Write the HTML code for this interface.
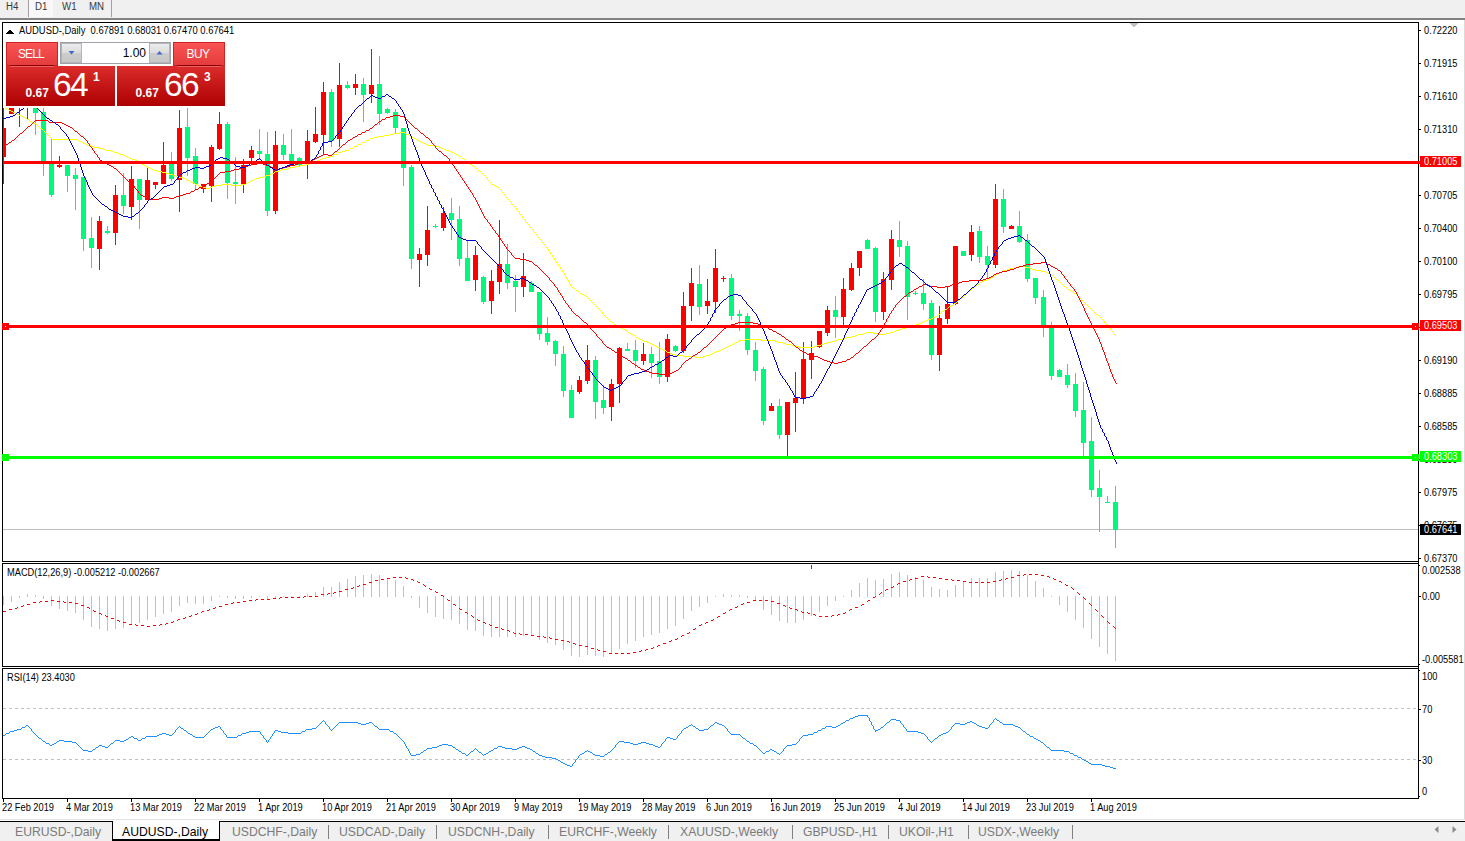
<!DOCTYPE html>
<html><head><meta charset="utf-8"><title>AUDUSD-,Daily</title>
<style>
html,body{margin:0;padding:0;}
body{width:1465px;height:841px;position:relative;overflow:hidden;background:#fff;font-family:"Liberation Sans",sans-serif;}
#chart{position:absolute;left:0;top:0;}
.ax{position:absolute;font-size:10px;line-height:12px;height:12px;color:#000;white-space:pre;transform:scaleX(0.925);transform-origin:0 0;}
#topbar{position:absolute;left:0;top:0;width:1465px;height:18px;background:#f0f0f0;border-bottom:2px solid #828282;box-sizing:content-box;}
#topbar .tf{position:absolute;top:0;height:17px;line-height:14px;font-size:10px;color:#3a3a3a;transform:scaleX(0.97);transform-origin:0 0;}
#topbar .sep{position:absolute;top:0;width:1px;height:17px;background:#a0a0a0;}
#d1bg{position:absolute;left:29px;top:0;width:24px;height:17px;background:#f8f8f8;}
#tabs{position:absolute;left:0;top:819px;width:1465px;height:22px;background:#f0f0f0;}
#tabs .ln{position:absolute;left:0;top:2px;width:1465px;height:1px;background:#000;}
#tabs .top{position:absolute;left:0;top:0;width:1465px;height:1px;background:#e3e3e3;}
#tabs .top2{position:absolute;left:0;top:1px;width:1465px;height:1px;background:#fff;}
.tab{position:absolute;top:6px;font-size:12.2px;line-height:14px;color:#7a7a7a;white-space:pre;}
.tsep{position:absolute;top:6px;width:1px;height:14px;background:#808080;}
#atab{position:absolute;left:112px;top:2px;width:106px;height:18px;background:#fff;border:1px solid #000;border-top:none;border-bottom:2px solid #000;}
#oct{position:absolute;left:0;top:0;}
.w{position:absolute;color:#fff;white-space:pre;}

.pn{position:absolute;background:linear-gradient(#dc2c2c,#c41616 50%,#ae0000);}
.bt{position:absolute;background:linear-gradient(#fb5454,#e43c3c);box-shadow:inset 0 0 0 1px #cc2222;}
.ul{position:absolute;height:1px;background:#8c0000;box-shadow:0 1px 0 #e86060;}
#spin{position:absolute;left:60px;top:42px;width:109px;height:20px;border:1px solid #a0a2aa;background:#fff;}
.sb{position:absolute;top:1px;width:19px;height:18px;background:linear-gradient(#ececec,#dcdcdc 48%,#cccccc 52%,#c8c8c8);box-shadow:0 0 0 1px #b4b4b8;}

</style></head><body>
<svg id="chart" width="1465" height="841" viewBox="0 0 1465 841" shape-rendering="crispEdges">
<rect x="1464" y="20" width="1" height="800" fill="#dadada"/>
<rect x="2" y="22" width="1417" height="1" fill="#000"/>
<rect x="2" y="22" width="1" height="540" fill="#000"/>
<rect x="2" y="561" width="1417" height="1" fill="#000"/>
<rect x="2" y="563" width="1417" height="1" fill="#000"/>
<rect x="2" y="563" width="1" height="104" fill="#000"/>
<rect x="2" y="666" width="1417" height="1" fill="#000"/>
<rect x="2" y="668" width="1417" height="1" fill="#000"/>
<rect x="2" y="668" width="1" height="131" fill="#000"/>
<rect x="2" y="798" width="1417" height="1" fill="#000"/>
<rect x="1418" y="22" width="1" height="777" fill="#000"/>
<defs><clipPath id="cm"><rect x="3" y="23" width="1415" height="538"/></clipPath></defs>
<rect x="3" y="529" width="1415" height="1" fill="#c0c0c0"/>
<g clip-path="url(#cm)"><rect x="3" y="108" width="1" height="76" fill="#ff0000"/><rect x="1" y="128" width="5" height="29" fill="#ff0000"/><rect x="11" y="108" width="1" height="6" fill="#ff0000"/><rect x="9" y="108" width="5" height="6" fill="#ff0000"/><rect x="19" y="108" width="1" height="19" fill="#ff0000"/><rect x="27" y="108" width="1" height="11" fill="#ff0000"/><rect x="35" y="108" width="1" height="27" fill="#00f97d"/><rect x="33" y="108" width="5" height="5" fill="#00f97d"/><rect x="43" y="108" width="1" height="68" fill="#00f97d"/><rect x="41" y="112" width="5" height="50" fill="#00f97d"/><rect x="51" y="139" width="1" height="58" fill="#00f97d"/><rect x="49" y="163" width="5" height="32" fill="#00f97d"/><rect x="59" y="156" width="1" height="12" fill="#ff0000"/><rect x="57" y="165" width="5" height="2" fill="#ff0000"/><rect x="67" y="165" width="1" height="27" fill="#00f97d"/><rect x="65" y="165" width="5" height="11" fill="#00f97d"/><rect x="75" y="168" width="1" height="42" fill="#00f97d"/><rect x="73" y="175" width="5" height="4" fill="#00f97d"/><rect x="83" y="177" width="1" height="74" fill="#00f97d"/><rect x="81" y="177" width="5" height="62" fill="#00f97d"/><rect x="91" y="217" width="1" height="51" fill="#00f97d"/><rect x="89" y="238" width="5" height="10" fill="#00f97d"/><rect x="99" y="216" width="1" height="54" fill="#ff0000"/><rect x="97" y="221" width="5" height="28" fill="#ff0000"/><rect x="107" y="226" width="1" height="8" fill="#00f97d"/><rect x="105" y="231" width="5" height="2" fill="#00f97d"/><rect x="115" y="185" width="1" height="60" fill="#ff0000"/><rect x="113" y="195" width="5" height="38" fill="#ff0000"/><rect x="123" y="173" width="1" height="41" fill="#00f97d"/><rect x="121" y="195" width="5" height="11" fill="#00f97d"/><rect x="131" y="166" width="1" height="54" fill="#ff0000"/><rect x="129" y="179" width="5" height="28" fill="#ff0000"/><rect x="139" y="179" width="1" height="50" fill="#00f97d"/><rect x="137" y="179" width="5" height="21" fill="#00f97d"/><rect x="147" y="168" width="1" height="32" fill="#ff0000"/><rect x="145" y="180" width="5" height="20" fill="#ff0000"/><rect x="155" y="182" width="1" height="7" fill="#ff0000"/><rect x="153" y="182" width="5" height="3" fill="#ff0000"/><rect x="163" y="142" width="1" height="42" fill="#ff0000"/><rect x="161" y="165" width="5" height="19" fill="#ff0000"/><rect x="171" y="152" width="1" height="29" fill="#00f97d"/><rect x="169" y="164" width="5" height="15" fill="#00f97d"/><rect x="179" y="110" width="1" height="102" fill="#ff0000"/><rect x="177" y="128" width="5" height="52" fill="#ff0000"/><rect x="187" y="108" width="1" height="68" fill="#00f97d"/><rect x="185" y="127" width="5" height="31" fill="#00f97d"/><rect x="195" y="148" width="1" height="41" fill="#00f97d"/><rect x="193" y="156" width="5" height="28" fill="#00f97d"/><rect x="203" y="184" width="1" height="9" fill="#ff0000"/><rect x="201" y="184" width="5" height="5" fill="#ff0000"/><rect x="211" y="145" width="1" height="57" fill="#ff0000"/><rect x="209" y="147" width="5" height="39" fill="#ff0000"/><rect x="219" y="112" width="1" height="38" fill="#ff0000"/><rect x="217" y="124" width="5" height="25" fill="#ff0000"/><rect x="227" y="122" width="1" height="77" fill="#00f97d"/><rect x="225" y="124" width="5" height="59" fill="#00f97d"/><rect x="235" y="157" width="1" height="47" fill="#00f97d"/><rect x="233" y="182" width="5" height="2" fill="#00f97d"/><rect x="243" y="159" width="1" height="34" fill="#ff0000"/><rect x="241" y="165" width="5" height="19" fill="#ff0000"/><rect x="251" y="146" width="1" height="15" fill="#ff0000"/><rect x="249" y="150" width="5" height="8" fill="#ff0000"/><rect x="259" y="129" width="1" height="31" fill="#00f97d"/><rect x="257" y="151" width="5" height="3" fill="#00f97d"/><rect x="267" y="132" width="1" height="84" fill="#00f97d"/><rect x="265" y="154" width="5" height="57" fill="#00f97d"/><rect x="275" y="131" width="1" height="83" fill="#ff0000"/><rect x="273" y="145" width="5" height="66" fill="#ff0000"/><rect x="283" y="134" width="1" height="26" fill="#00f97d"/><rect x="281" y="145" width="5" height="10" fill="#00f97d"/><rect x="291" y="129" width="1" height="37" fill="#00f97d"/><rect x="289" y="154" width="5" height="12" fill="#00f97d"/><rect x="299" y="157" width="1" height="9" fill="#00f97d"/><rect x="297" y="158" width="5" height="7" fill="#00f97d"/><rect x="307" y="130" width="1" height="49" fill="#ff0000"/><rect x="305" y="141" width="5" height="22" fill="#ff0000"/><rect x="315" y="107" width="1" height="36" fill="#ff0000"/><rect x="313" y="134" width="5" height="8" fill="#ff0000"/><rect x="323" y="82" width="1" height="73" fill="#ff0000"/><rect x="321" y="92" width="5" height="43" fill="#ff0000"/><rect x="331" y="89" width="1" height="58" fill="#00f97d"/><rect x="329" y="92" width="5" height="49" fill="#00f97d"/><rect x="339" y="63" width="1" height="84" fill="#ff0000"/><rect x="337" y="85" width="5" height="54" fill="#ff0000"/><rect x="347" y="81" width="1" height="8" fill="#00f97d"/><rect x="345" y="85" width="5" height="3" fill="#00f97d"/><rect x="355" y="74" width="1" height="21" fill="#ff0000"/><rect x="353" y="84" width="5" height="4" fill="#ff0000"/><rect x="363" y="78" width="1" height="44" fill="#00f97d"/><rect x="361" y="84" width="5" height="11" fill="#00f97d"/><rect x="371" y="49" width="1" height="54" fill="#ff0000"/><rect x="369" y="85" width="5" height="9" fill="#ff0000"/><rect x="379" y="56" width="1" height="69" fill="#00f97d"/><rect x="377" y="84" width="5" height="30" fill="#00f97d"/><rect x="387" y="108" width="1" height="6" fill="#00f97d"/><rect x="385" y="109" width="5" height="4" fill="#00f97d"/><rect x="395" y="109" width="1" height="25" fill="#00f97d"/><rect x="393" y="112" width="5" height="16" fill="#00f97d"/><rect x="403" y="128" width="1" height="58" fill="#00f97d"/><rect x="401" y="128" width="5" height="40" fill="#00f97d"/><rect x="411" y="165" width="1" height="104" fill="#00f97d"/><rect x="409" y="167" width="5" height="92" fill="#00f97d"/><rect x="419" y="248" width="1" height="39" fill="#ff0000"/><rect x="417" y="254" width="5" height="6" fill="#ff0000"/><rect x="427" y="206" width="1" height="60" fill="#ff0000"/><rect x="425" y="230" width="5" height="25" fill="#ff0000"/><rect x="435" y="224" width="1" height="4" fill="#00f97d"/><rect x="433" y="226" width="5" height="1" fill="#00f97d"/><rect x="443" y="207" width="1" height="24" fill="#ff0000"/><rect x="441" y="213" width="5" height="15" fill="#ff0000"/><rect x="451" y="198" width="1" height="42" fill="#00f97d"/><rect x="449" y="213" width="5" height="7" fill="#00f97d"/><rect x="459" y="206" width="1" height="60" fill="#00f97d"/><rect x="457" y="219" width="5" height="40" fill="#00f97d"/><rect x="467" y="241" width="1" height="40" fill="#00f97d"/><rect x="465" y="258" width="5" height="23" fill="#00f97d"/><rect x="475" y="246" width="1" height="45" fill="#ff0000"/><rect x="473" y="255" width="5" height="25" fill="#ff0000"/><rect x="483" y="276" width="1" height="28" fill="#00f97d"/><rect x="481" y="277" width="5" height="25" fill="#00f97d"/><rect x="491" y="270" width="1" height="44" fill="#ff0000"/><rect x="489" y="281" width="5" height="20" fill="#ff0000"/><rect x="499" y="220" width="1" height="74" fill="#ff0000"/><rect x="497" y="264" width="5" height="18" fill="#ff0000"/><rect x="507" y="244" width="1" height="45" fill="#00f97d"/><rect x="505" y="264" width="5" height="19" fill="#00f97d"/><rect x="515" y="275" width="1" height="37" fill="#00f97d"/><rect x="513" y="281" width="5" height="6" fill="#00f97d"/><rect x="523" y="253" width="1" height="44" fill="#ff0000"/><rect x="521" y="276" width="5" height="11" fill="#ff0000"/><rect x="531" y="281" width="1" height="11" fill="#00f97d"/><rect x="529" y="283" width="5" height="9" fill="#00f97d"/><rect x="539" y="292" width="1" height="48" fill="#00f97d"/><rect x="537" y="292" width="5" height="42" fill="#00f97d"/><rect x="547" y="317" width="1" height="28" fill="#00f97d"/><rect x="545" y="333" width="5" height="9" fill="#00f97d"/><rect x="555" y="340" width="1" height="26" fill="#00f97d"/><rect x="553" y="341" width="5" height="13" fill="#00f97d"/><rect x="563" y="346" width="1" height="51" fill="#00f97d"/><rect x="561" y="354" width="5" height="37" fill="#00f97d"/><rect x="571" y="385" width="1" height="33" fill="#00f97d"/><rect x="569" y="390" width="5" height="28" fill="#00f97d"/><rect x="579" y="376" width="1" height="18" fill="#ff0000"/><rect x="577" y="380" width="5" height="12" fill="#ff0000"/><rect x="587" y="345" width="1" height="39" fill="#ff0000"/><rect x="585" y="360" width="5" height="21" fill="#ff0000"/><rect x="595" y="356" width="1" height="63" fill="#00f97d"/><rect x="593" y="360" width="5" height="42" fill="#00f97d"/><rect x="603" y="385" width="1" height="29" fill="#00f97d"/><rect x="601" y="400" width="5" height="8" fill="#00f97d"/><rect x="611" y="379" width="1" height="42" fill="#ff0000"/><rect x="609" y="384" width="5" height="23" fill="#ff0000"/><rect x="619" y="347" width="1" height="56" fill="#ff0000"/><rect x="617" y="348" width="5" height="36" fill="#ff0000"/><rect x="627" y="343" width="1" height="8" fill="#00f97d"/><rect x="625" y="349" width="5" height="2" fill="#00f97d"/><rect x="635" y="340" width="1" height="28" fill="#00f97d"/><rect x="633" y="350" width="5" height="11" fill="#00f97d"/><rect x="643" y="343" width="1" height="22" fill="#ff0000"/><rect x="641" y="354" width="5" height="7" fill="#ff0000"/><rect x="651" y="347" width="1" height="31" fill="#00f97d"/><rect x="649" y="354" width="5" height="9" fill="#00f97d"/><rect x="659" y="342" width="1" height="42" fill="#00f97d"/><rect x="657" y="361" width="5" height="16" fill="#00f97d"/><rect x="667" y="334" width="1" height="48" fill="#ff0000"/><rect x="665" y="339" width="5" height="38" fill="#ff0000"/><rect x="675" y="345" width="1" height="7" fill="#00f97d"/><rect x="673" y="346" width="5" height="5" fill="#00f97d"/><rect x="683" y="292" width="1" height="61" fill="#ff0000"/><rect x="681" y="306" width="5" height="45" fill="#ff0000"/><rect x="691" y="268" width="1" height="53" fill="#ff0000"/><rect x="689" y="283" width="5" height="23" fill="#ff0000"/><rect x="699" y="265" width="1" height="50" fill="#00f97d"/><rect x="697" y="284" width="5" height="23" fill="#00f97d"/><rect x="707" y="279" width="1" height="35" fill="#ff0000"/><rect x="705" y="301" width="5" height="5" fill="#ff0000"/><rect x="715" y="249" width="1" height="64" fill="#ff0000"/><rect x="713" y="268" width="5" height="34" fill="#ff0000"/><rect x="723" y="276" width="1" height="6" fill="#ff0000"/><rect x="721" y="278" width="5" height="1" fill="#ff0000"/><rect x="731" y="274" width="1" height="46" fill="#00f97d"/><rect x="729" y="278" width="5" height="38" fill="#00f97d"/><rect x="739" y="310" width="1" height="21" fill="#00f97d"/><rect x="737" y="314" width="5" height="2" fill="#00f97d"/><rect x="747" y="313" width="1" height="42" fill="#00f97d"/><rect x="745" y="316" width="5" height="34" fill="#00f97d"/><rect x="755" y="342" width="1" height="39" fill="#00f97d"/><rect x="753" y="350" width="5" height="21" fill="#00f97d"/><rect x="763" y="367" width="1" height="58" fill="#00f97d"/><rect x="761" y="369" width="5" height="52" fill="#00f97d"/><rect x="771" y="403" width="1" height="8" fill="#ff0000"/><rect x="769" y="406" width="5" height="5" fill="#ff0000"/><rect x="779" y="399" width="1" height="40" fill="#00f97d"/><rect x="777" y="406" width="5" height="29" fill="#00f97d"/><rect x="787" y="402" width="1" height="54" fill="#ff0000"/><rect x="785" y="402" width="5" height="33" fill="#ff0000"/><rect x="795" y="372" width="1" height="60" fill="#ff0000"/><rect x="793" y="398" width="5" height="5" fill="#ff0000"/><rect x="803" y="342" width="1" height="62" fill="#ff0000"/><rect x="801" y="359" width="5" height="40" fill="#ff0000"/><rect x="811" y="341" width="1" height="38" fill="#ff0000"/><rect x="809" y="353" width="5" height="7" fill="#ff0000"/><rect x="819" y="331" width="1" height="17" fill="#ff0000"/><rect x="817" y="331" width="5" height="16" fill="#ff0000"/><rect x="827" y="306" width="1" height="30" fill="#ff0000"/><rect x="825" y="310" width="5" height="23" fill="#ff0000"/><rect x="835" y="296" width="1" height="42" fill="#00f97d"/><rect x="833" y="310" width="5" height="7" fill="#00f97d"/><rect x="843" y="278" width="1" height="47" fill="#ff0000"/><rect x="841" y="289" width="5" height="28" fill="#ff0000"/><rect x="851" y="263" width="1" height="28" fill="#ff0000"/><rect x="849" y="268" width="5" height="22" fill="#ff0000"/><rect x="859" y="251" width="1" height="25" fill="#ff0000"/><rect x="857" y="251" width="5" height="17" fill="#ff0000"/><rect x="867" y="239" width="1" height="10" fill="#00f97d"/><rect x="865" y="240" width="5" height="9" fill="#00f97d"/><rect x="875" y="247" width="1" height="75" fill="#00f97d"/><rect x="873" y="248" width="5" height="64" fill="#00f97d"/><rect x="883" y="272" width="1" height="48" fill="#ff0000"/><rect x="881" y="279" width="5" height="33" fill="#ff0000"/><rect x="891" y="230" width="1" height="60" fill="#ff0000"/><rect x="889" y="239" width="5" height="41" fill="#ff0000"/><rect x="899" y="221" width="1" height="36" fill="#00f97d"/><rect x="897" y="240" width="5" height="7" fill="#00f97d"/><rect x="907" y="241" width="1" height="79" fill="#00f97d"/><rect x="905" y="246" width="5" height="51" fill="#00f97d"/><rect x="915" y="291" width="1" height="4" fill="#00f97d"/><rect x="913" y="293" width="5" height="1" fill="#00f97d"/><rect x="923" y="279" width="1" height="31" fill="#00f97d"/><rect x="921" y="293" width="5" height="11" fill="#00f97d"/><rect x="931" y="300" width="1" height="60" fill="#00f97d"/><rect x="929" y="303" width="5" height="52" fill="#00f97d"/><rect x="939" y="306" width="1" height="65" fill="#ff0000"/><rect x="937" y="318" width="5" height="37" fill="#ff0000"/><rect x="947" y="286" width="1" height="38" fill="#ff0000"/><rect x="945" y="304" width="5" height="15" fill="#ff0000"/><rect x="955" y="246" width="1" height="59" fill="#ff0000"/><rect x="953" y="246" width="5" height="58" fill="#ff0000"/><rect x="963" y="251" width="1" height="5" fill="#00f97d"/><rect x="961" y="251" width="5" height="5" fill="#00f97d"/><rect x="971" y="225" width="1" height="36" fill="#ff0000"/><rect x="969" y="232" width="5" height="23" fill="#ff0000"/><rect x="979" y="226" width="1" height="37" fill="#00f97d"/><rect x="977" y="231" width="5" height="26" fill="#00f97d"/><rect x="987" y="246" width="1" height="32" fill="#00f97d"/><rect x="985" y="256" width="5" height="9" fill="#00f97d"/><rect x="995" y="184" width="1" height="84" fill="#ff0000"/><rect x="993" y="199" width="5" height="66" fill="#ff0000"/><rect x="1003" y="189" width="1" height="44" fill="#00f97d"/><rect x="1001" y="199" width="5" height="28" fill="#00f97d"/><rect x="1011" y="225" width="1" height="4" fill="#ff0000"/><rect x="1009" y="226" width="5" height="3" fill="#ff0000"/><rect x="1019" y="211" width="1" height="32" fill="#00f97d"/><rect x="1017" y="226" width="5" height="16" fill="#00f97d"/><rect x="1027" y="234" width="1" height="48" fill="#00f97d"/><rect x="1025" y="240" width="5" height="39" fill="#00f97d"/><rect x="1035" y="278" width="1" height="26" fill="#00f97d"/><rect x="1033" y="278" width="5" height="20" fill="#00f97d"/><rect x="1043" y="290" width="1" height="47" fill="#00f97d"/><rect x="1041" y="297" width="5" height="29" fill="#00f97d"/><rect x="1051" y="322" width="1" height="58" fill="#00f97d"/><rect x="1049" y="326" width="5" height="50" fill="#00f97d"/><rect x="1059" y="369" width="1" height="8" fill="#00f97d"/><rect x="1057" y="370" width="5" height="7" fill="#00f97d"/><rect x="1067" y="364" width="1" height="24" fill="#00f97d"/><rect x="1065" y="375" width="5" height="10" fill="#00f97d"/><rect x="1075" y="373" width="1" height="44" fill="#00f97d"/><rect x="1073" y="384" width="5" height="27" fill="#00f97d"/><rect x="1083" y="382" width="1" height="74" fill="#00f97d"/><rect x="1081" y="410" width="5" height="33" fill="#00f97d"/><rect x="1091" y="417" width="1" height="80" fill="#00f97d"/><rect x="1089" y="441" width="5" height="49" fill="#00f97d"/><rect x="1099" y="470" width="1" height="62" fill="#00f97d"/><rect x="1097" y="488" width="5" height="9" fill="#00f97d"/><rect x="1107" y="496" width="1" height="7" fill="#00f97d"/><rect x="1105" y="502" width="5" height="1" fill="#00f97d"/><rect x="1115" y="486" width="1" height="62" fill="#00f97d"/><rect x="1113" y="502" width="5" height="28" fill="#00f97d"/></g>
<path d="M0 .5m5 108h2m0 1h2m0 1h2m0 1h2m0 1h2m0 1h2m0 1h2m0 1h2m0 1h2m0 1h2m0 1h2m0 1h2m0 1h1m0 1h2m0 1h2m0 1h2m0 1h1m0 1h1m0 1h1m0 1h1m0 1h2m0 1h1m0 1h1m0 1h1m0 1h1m0 1h1m0 1h1m0 1h1m0 1h1m0 1h1m0 1h1m0 1h26m0 1h1m0 1h3m0 1h1m0 1h3m0 1h1m0 1h4m0 1h3m0 1h5m0 1h4m0 1h3m0 1h5m0 1h3m0 1h4m0 1h2m0 1h3m0 1h2m0 1h2m0 1h3m0 1h2m0 1h3m0 1h2m0 1h2m0 1h2m0 1h1m0 1h2m0 1h2m0 1h1m0 1h3m0 1h1m0 1h3m0 1h3m0 1h5m0 1h4m0 1h3m0 1h4m0 1h3m0 1h3m0 1h4m0 1h3m0 1h1m0 1h3m0 1h1m0 1h3m0 1h1m0 1h3m0 1h1m0 1h4m0 1h3m0 1h4m0 -1h2m0 -1h3m0 -1h6m0 -1h10m0 1h10m0 -1h5m0 -1h1m0 -1h3m0 -1h1m0 -1h3m0 -1h2m0 -1h3m0 -1h4m0 -1h3m0 -1h4m0 -1h1m0 -1h3m0 -1h1m0 -1h4m0 -1h3m0 -1h5m0 -1h3m0 -1h5m0 -1h5m0 -1h5m0 -1h4m0 -1h2m0 -1h3m0 -1h3m0 -1h3m0 -1h2m0 -1h4m0 -1h3m0 -1h4m0 -1h1m0 -1h3m0 -1h1m0 -1h4m0 -1h3m0 -1h4m0 -1h1m0 -1h3m0 -1h1m0 -1h3m0 -1h1m0 -1h3m0 -1h1m0 -1h3m0 -1h1m0 -1h3m0 -1h1m0 -1h4m0 -1h3m0 -1h7m0 -1h6m0 -1h3m0 -1h7m0 -1h5m0 1h1m0 1h3m0 1h1m0 1h2m0 1h2m0 1h2m0 1h1m0 1h2m0 1h2m0 1h2m0 1h3m0 1h2m0 1h6m0 1h5m0 1h2m0 1h3m0 1h2m0 1h3m0 1h2m0 1h3m0 1h2m0 1h2m0 1h1m0 1h2m0 1h1m0 1h2m0 1h1m0 1h1m0 1h2m0 1h1m0 1h1m0 1h2m0 1h1m0 1h2m0 1h1m0 1h1m0 1h1m0 1h1m0 1h2m0 1h1m0 1h1m0 1h1m0 1h1m0 1h1m0 1h1m0 1h1m-1 1h1m0 1h1m0 1h1m0 1h1m0 1h1m0 1h2m0 1h2m0 1h1m0 1h2m0 1h1m0 1h1m0 1h1m-1 1h1m0 1h1m0 1h1m0 1h1m0 1h1m-1 1h1m0 1h1m0 1h1m0 1h1m0 1h1m0 1h1m0 1h1m-1 1h1m0 1h1m0 1h1m0 1h1m0 1h1m0 1h1m-1 1h1m0 1h1m0 1h1m0 1h1m-1 1h1m0 1h1m0 1h1m0 1h1m-1 1h1m0 1h1m0 1h1m0 1h1m-1 1h1m0 1h1m0 1h1m0 1h1m0 1h1m-1 1h1m0 1h1m0 1h1m0 1h1m0 1h1m-1 1h1m0 1h1m0 1h1m0 1h1m0 1h1m-1 1h1m0 1h1m0 1h1m0 1h1m0 1h1m-1 1h1m0 1h1m0 1h1m0 1h1m0 1h1m-1 1h1m0 1h1m0 1h1m0 1h1m-1 1h1m0 1h1m0 1h1m-1 1h1m0 1h1m0 1h1m-1 1h1m0 1h1m0 1h1m-1 1h1m0 1h1m0 1h1m-1 1h1m0 1h1m0 1h1m-1 1h1m0 1h1m0 1h1m-1 1h1m0 1h1m0 1h1m-1 1h1m0 1h1m0 1h1m-1 1h1m0 1h1m-1 1h1m0 1h1m-1 1h1m0 1h1m0 1h1m-1 1h1m0 1h1m-1 1h1m0 1h1m-1 1h1m0 1h1m0 1h1m0 1h2m0 1h1m0 1h2m0 1h1m0 1h1m0 1h2m0 1h2m0 1h2m0 1h1m0 1h1m0 1h1m0 1h1m0 1h1m0 1h1m0 1h1m0 1h1m0 1h1m0 1h1m0 1h1m0 1h1m0 1h1m0 1h1m0 1h1m0 1h1m0 1h1m-1 1h1m0 1h1m0 1h1m0 1h1m0 1h1m0 1h1m0 1h1m0 1h1m0 1h2m0 1h1m0 1h1m0 1h2m0 1h1m0 1h3m0 1h1m0 1h2m0 1h2m0 1h2m0 1h1m0 1h2m0 1h1m0 1h2m0 1h2m0 1h1m0 1h2m0 1h2m0 1h2m0 1h2m0 1h3m0 1h2m0 1h3m0 1h1m0 1h3m0 1h1m0 1h3m0 1h2m0 1h1m0 1h3m0 1h1m0 1h3m0 1h2m0 1h3m0 1h8m0 1h12m0 1h8m0 -1h3m0 -1h4m0 -1h2m0 -1h2m0 -1h2m0 -1h3m0 -1h2m0 -1h2m0 -1h2m0 -1h3m0 -1h1m0 -1h3m0 -1h2m0 -1h1m0 -1h3m0 -1h1m0 -1h6m0 -1h16m0 1h14m0 1h3m0 1h5m0 1h3m0 1h5m0 1h3m0 1h5m0 1h15m0 -1h3m0 -1h4m0 -1h3m0 -1h3m0 -1h4m0 -1h4m0 -1h3m0 -1h5m0 -1h3m0 -1h5m0 -1h4m0 -1h3m0 -1h5m0 -1h3m0 -1h7m0 1h7m0 1h5m0 -1h5m0 -1h4m0 -1h2m0 -1h3m0 -1h3m0 -1h4m0 -1h3m0 -1h3m0 -1h4m0 -1h3m0 -1h2m0 -1h2m0 -1h3m0 -1h2m0 -1h3m0 -1h2m0 -1h2m0 -1h2m0 -1h1m0 -1h2m0 -1h1m0 -1h1m0 -1h2m0 -1h1m0 -1h2m0 -1h1m0 -1h1m0 -1h2m0 -1h2m0 -1h1m0 -1h2m0 -1h1m0 -1h1m0 -1h1m0 -1h1m0 -1h2m0 -1h1m0 -1h1m0 -1h1m0 -1h1m0 -1h1m0 -1h1m0 -1h2m0 -1h1m0 -1h1m0 -1h1m0 -1h1m0 -1h2m0 -1h1m0 -1h2m0 -1h1m0 -1h2m0 -1h2m0 -1h3m0 -1h2m0 -1h2m0 -1h2m0 -1h1m0 -1h2m0 -1h2m0 -1h1m0 -1h3m0 -1h1m0 -1h4m0 -1h3m0 -1h5m0 -1h3m0 -1h7m0 1h5m0 1h2m0 1h3m0 1h6m0 1h5m0 1h1m0 1h3m0 1h1m0 1h2m0 1h1m0 1h1m0 1h1m0 1h2m0 1h1m0 1h1m0 1h1m0 1h1m0 1h1m0 1h1m0 1h2m0 1h1m0 1h1m0 1h1m0 1h2m0 1h2m0 1h1m0 1h2m0 1h1m0 1h1m0 1h1m0 1h1m0 1h1m0 1h1m0 1h1m0 1h1m0 1h1m0 1h1m0 1h1m0 1h1m0 1h1m0 1h1m0 1h1m0 1h1m0 1h1m0 1h1m0 1h1m0 1h1m0 1h2m0 1h1m0 1h1m0 1h1m0 1h1m0 1h1m0 1h1m0 1h1m-1 1h1m0 1h1m0 1h1m0 1h1m0 1h1m0 1h1m0 1h1m-1 1h1m0 1h1m0 1h1m0 1h1m-1 1h1m0 1h1m0 1h1" fill="none" stroke="#ffff00" stroke-width="1"/>
<path d="M0 .5m3 146h1m0 -1h2m0 -1h2m0 -1h1m0 -1h2m0 -1h1m0 -1h2m0 -1h1m0 -1h1m0 -1h1m0 -1h1m0 -1h1m0 -1h1m0 -1h2m0 -1h1m0 -1h1m0 -1h1m0 -1h1m0 -1h1m0 -1h1m0 -1h2m0 -1h1m0 -1h1m0 -1h1m0 -1h1m0 -1h1m0 -1h13m0 1h1m0 1h13m0 1h2m0 1h2m0 1h2m0 1h2m0 1h2m0 1h1m0 1h1m0 1h1m0 1h2m0 1h1m0 1h1m0 1h1m0 1h1m0 1h2m0 1h1m0 1h1m0 1h1m0 1h1m0 1h1m-1 1h1m0 1h1m0 1h1m-1 1h1m0 1h1m0 1h1m0 1h1m-1 1h1m0 1h1m0 1h1m-1 1h1m0 1h1m0 1h1m0 1h1m-1 1h1m0 1h1m0 1h1m-1 1h1m0 1h2m0 1h1m0 1h3m0 1h1m0 1h2m0 1h2m0 1h2m0 1h1m0 1h2m0 1h1m0 1h1m0 1h1m0 1h1m0 1h1m0 1h1m0 1h1m0 1h1m0 1h1m0 1h1m0 1h1m0 1h1m0 1h2m0 1h1m0 1h1m0 1h1m0 1h1m0 1h1m-1 1h1m0 1h1m0 1h1m0 1h1m0 1h1m-1 1h1m0 1h1m0 1h1m0 1h2m0 1h2m0 1h1m0 1h2m0 1h11m0 -1h3m0 -1h7m0 1h5m0 -1h2m0 -1h3m0 -1h4m0 -1h3m0 -1h4m0 -1h1m0 -1h3m0 -1h1m0 -1h3m0 -1h1m0 -1h3m0 -1h1m0 -1h2m0 -1h2m0 -1h2m0 -1h1m0 -1h2m0 -1h1m0 -1h1m0 -1h1m0 -1h1m0 -1h1m0 -1h1m0 -1h1m0 -1h1m0 -1h5m0 -1h6m0 -1h3m0 -1h5m0 -1h3m0 -1h4m0 -1h2m0 -1h3m0 -1h6m0 -1h6m0 1h3m0 1h3m0 1h2m0 1h2m0 1h1m0 1h2m0 1h2m0 -1h2m0 -1h3m0 -1h4m0 -1h3m0 -1h5m0 -1h3m0 -1h5m0 -1h5m0 -1h3m0 -1h2m0 -1h2m0 -1h2m0 -1h2m0 -1h2m0 -1h2m0 -1h5m0 1h4m0 -1h1m0 -1h1m0 -1h1m0 -1h2m0 -1h1m0 -1h1m0 -1h1m0 -1h1m0 -1h1m0 -1h1m0 -1h2m0 -1h1m0 -1h1m0 -1h1m0 -1h2m0 -1h2m0 -1h1m0 -1h2m0 -1h2m0 -1h1m0 -1h3m0 -1h1m0 -1h3m0 -1h1m0 -1h3m0 -1h1m0 -1h2m0 -1h1m0 -1h1m0 -1h1m0 -1h2m0 -1h1m0 -1h1m0 -1h2m0 -1h1m0 -1h3m0 -1h1m0 -1h4m0 -1h3m0 -1h7m0 1h4m0 1h1m0 1h1m0 1h1m0 1h1m0 1h1m0 1h1m0 1h1m0 1h1m0 1h1m0 1h1m0 1h1m0 1h2m0 1h1m0 1h1m0 1h1m0 1h1m0 1h2m0 1h1m0 1h1m0 1h1m0 1h2m0 1h1m0 1h1m0 1h1m0 1h1m-1 1h1m0 1h1m0 1h1m0 1h1m0 1h1m-1 1h1m0 1h1m0 1h1m0 1h1m0 1h2m0 1h1m0 1h1m0 1h1m0 1h2m0 1h1m0 1h1m0 1h1m0 1h1m-1 1h1m0 1h1m0 1h1m-1 1h1m0 1h1m0 1h1m0 1h1m-1 1h1m0 1h1m0 1h1m-1 1h1m0 1h1m0 1h1m-1 1h1m0 1h1m0 1h1m-1 1h1m0 1h1m0 1h1m-1 1h1m0 1h1m0 1h1m-1 1h1m0 1h1m0 1h1m-1 1h1m0 1h1m0 1h1m-1 1h1m0 1h1m0 1h1m-1 1h1m0 1h1m0 1h1m-1 1h1m0 1h1m-1 1h1m0 1h1m0 1h1m-1 1h1m0 1h1m-1 1h1m0 1h1m-1 1h1m0 1h1m-1 1h1m0 1h1m-1 1h1m0 1h1m-1 1h1m0 1h1m-1 1h1m0 1h1m-1 1h1m0 1h1m-1 1h1m0 1h1m-1 1h1m0 1h1m0 1h1m0 1h1m-1 1h1m0 1h1m0 1h1m0 1h1m-1 1h1m0 1h1m0 1h1m-1 1h1m0 1h1m0 1h1m0 1h1m-1 1h1m0 1h1m0 1h1m0 1h1m-1 1h1m0 1h1m0 1h1m-1 1h1m0 1h1m0 1h1m-1 1h1m0 1h1m0 1h1m-1 1h1m0 1h1m0 1h1m-1 1h1m0 1h1m0 1h1m0 1h1m0 1h1m0 1h1m-1 1h1m0 1h1m0 1h1m0 1h1m0 1h5m0 1h6m0 1h3m0 1h3m0 1h1m0 1h1m0 1h1m0 1h2m0 1h1m0 1h1m0 1h1m0 1h1m0 1h1m0 1h1m0 1h1m0 1h1m0 1h1m0 1h1m0 1h1m0 1h1m0 1h1m-1 1h1m0 1h1m0 1h1m0 1h1m0 1h1m0 1h1m-1 1h1m0 1h1m0 1h1m0 1h1m-1 1h1m0 1h1m-1 1h1m0 1h1m0 1h1m-1 1h1m0 1h1m0 1h1m-1 1h1m0 1h1m-1 1h1m0 1h1m0 1h1m-1 1h1m0 1h1m0 1h1m0 1h1m-1 1h1m0 1h1m0 1h1m0 1h1m-1 1h1m0 1h1m0 1h1m0 1h1m0 1h1m0 1h2m0 1h1m0 1h1m0 1h1m0 1h1m0 1h1m0 1h1m0 1h2m0 1h1m0 1h1m0 1h1m0 1h1m0 1h1m-1 1h1m0 1h1m0 1h1m0 1h1m0 1h1m0 1h1m0 1h1m-1 1h1m0 1h1m0 1h1m0 1h1m0 1h1m0 1h1m0 1h1m-1 1h1m0 1h1m0 1h1m0 1h1m0 1h1m0 1h2m0 1h2m0 1h1m0 1h2m0 1h1m0 1h2m0 1h2m0 1h1m0 1h2m0 1h1m0 1h2m0 1h2m0 1h1m0 1h2m0 1h1m0 1h1m0 1h2m0 1h1m0 1h2m0 1h1m0 1h2m0 1h1m0 1h3m0 1h1m0 1h4m0 1h3m0 1h7m0 1h8m0 -1h5m0 -1h2m0 -1h2m0 -1h2m0 -1h1m0 -1h1m0 -1h1m0 -2h1m-1 1h1m0 -2h1m0 -1h1m0 -1h1m0 -1h1m0 -1h2m0 -1h1m0 -1h2m0 -1h1m0 -1h1m0 -1h2m0 -1h2m0 -1h1m0 -1h2m0 -1h1m0 -1h1m0 -1h1m0 -1h1m0 -1h2m0 -1h1m0 -1h1m0 -1h1m0 -1h1m0 -1h1m0 -1h1m0 -1h1m0 -1h1m0 -1h1m0 -1h1m0 -1h1m0 -1h1m0 -1h1m0 -1h1m0 -1h1m0 -1h1m0 -1h1m0 -1h1m0 -1h2m0 -1h1m0 -1h3m0 -1h1m0 -1h4m0 -1h3m0 -1h15m0 1h5m0 1h2m0 1h3m0 1h2m0 1h3m0 1h1m0 1h3m0 1h1m0 1h3m0 1h1m0 1h2m0 1h2m0 1h1m0 1h2m0 1h1m0 1h1m0 1h2m0 1h1m0 1h2m0 1h1m0 1h1m0 1h1m0 1h1m0 1h1m0 1h2m0 1h1m0 1h1m0 1h2m0 1h1m0 1h3m0 1h1m0 1h4m0 1h3m0 1h4m0 1h2m0 1h2m0 1h2m0 1h3m0 1h3m0 1h4m0 1h4m0 -1h4m0 -1h4m0 -1h1m0 -1h3m0 -1h1m0 -1h2m0 -1h1m0 -1h1m0 -1h1m0 -1h2m0 -1h1m0 -1h1m0 -1h1m0 -1h1m0 -1h1m0 -1h1m0 -1h2m0 -1h1m0 -1h1m0 -1h1m0 -1h1m0 -1h1m0 -1h1m0 -1h2m0 -1h1m0 -1h1m0 -1h1m0 -1h1m0 -2h1m-1 1h1m0 -2h1m0 -2h1m-1 1h1m0 -2h1m0 -2h1m-1 1h1m0 -2h1m0 -3h1m-1 1h1m-1 1h1m0 -3h1m0 -3h1m-1 1h1m-1 1h1m0 -3h1m0 -2h1m-1 1h1m0 -3h1m-1 1h1m0 -2h1m0 -2h1m-1 1h1m0 -2h1m0 -2h1m-1 1h1m0 -2h1m0 -2h1m-1 1h1m0 -2h1m0 -1h1m0 -1h1m0 -1h1m0 -1h1m0 -1h1m0 -1h1m0 -1h1m0 -1h2m0 -1h1m0 -1h1m0 -1h1m0 -1h2m0 -1h2m0 -1h1m0 -1h2m0 -1h2m0 -1h1m0 -1h3m0 -1h1m0 -1h4m0 1h3m0 1h7m0 1h8m0 -1h5m0 -1h2m0 -1h3m0 -1h4m0 -1h3m0 -1h7m0 -1h14m0 -1h3m0 -1h3m0 -1h2m0 -1h2m0 -1h1m0 -1h2m0 -1h3m0 -1h3m0 -1h5m0 -1h3m0 -1h4m0 -1h2m0 -1h3m0 -1h4m0 -1h3m0 -1h7m0 -1h8m0 -1h5m0 1h1m0 1h3m0 1h1m0 1h2m0 1h2m0 1h2m0 1h1m0 1h2m0 1h1m0 1h1m-1 1h1m0 1h1m0 1h1m0 1h1m-1 1h1m0 1h1m0 1h1m0 1h1m-1 1h1m0 1h1m0 1h1m0 1h1m-1 1h1m0 1h1m0 1h1m0 1h1m0 1h1m-1 1h1m0 1h1m0 1h1m-1 1h1m0 1h1m-1 1h1m0 1h1m-1 1h1m0 1h1m-1 1h1m0 1h1m-1 1h1m0 1h1m-1 1h1m0 1h1m-1 1h1m0 1h1m-1 1h1m0 1h1m-1 1h1m-1 1h1m0 1h1m-1 1h1m0 1h1m-1 1h1m0 1h1m-1 1h1m0 1h1m-1 1h1m0 1h1m-1 1h1m0 1h1m-1 1h1m0 1h1m-1 1h1m0 1h1m-1 1h1m0 1h1m-1 1h1m0 1h1m-1 1h1m0 1h1m-1 1h1m0 1h1m-1 1h1m0 1h1m-1 1h1m0 1h1m-1 1h1m0 1h1m-1 1h1m-1 1h1m0 1h1m-1 1h1m0 1h1m-1 1h1m-1 1h1m0 1h1m-1 1h1m-1 1h1m0 1h1m-1 1h1m0 1h1m-1 1h1m-1 1h1m0 1h1m-1 1h1m-1 1h1m0 1h1m-1 1h1m-1 1h1m0 1h1m-1 1h1m0 1h1m-1 1h1m-1 1h1m0 1h1m-1 1h1m-1 1h1m0 1h1m-1 1h1m-1 1h1m0 1h1m-1 1h1m0 1h1m-1 1h1m-1 1h1m0 1h1m-1 1h1m0 1h1m-1 1h1m0 1h1m-1 1h1m0 1h1" fill="none" stroke="#ff0000" stroke-width="1"/>
<path d="M0 .5m3 118h3m0 -1h4m0 -1h3m0 -1h2m0 -1h1m0 -1h1m0 -1h2m0 -1h1m0 -1h1m0 -1h2m0 -1h1m13 0h1m0 1h1m0 1h1m0 1h1m0 1h1m0 1h1m0 1h1m0 1h1m0 1h1m0 1h1m0 1h2m0 1h1m0 1h2m0 1h1m0 1h2m0 1h1m0 1h2m0 1h1m0 1h1m0 1h1m-1 1h1m0 1h1m0 1h1m0 1h1m0 1h1m0 1h1m0 1h1m-1 1h1m0 1h1m0 1h1m-1 1h1m0 1h1m-1 1h1m0 1h1m-1 1h1m0 1h1m-1 1h1m0 1h1m-1 1h1m0 1h1m-1 1h1m0 1h1m-1 1h1m0 1h1m-1 1h1m0 1h1m-1 1h1m0 1h1m-1 1h1m-1 1h1m0 1h1m-1 1h1m-1 1h1m0 1h1m-1 1h1m-1 1h1m0 1h1m-1 1h1m-1 1h1m0 1h1m-1 1h1m-1 1h1m0 1h1m-1 1h1m-1 1h1m0 1h1m-1 1h1m-1 1h1m0 1h1m-1 1h1m0 1h1m-1 1h1m0 1h1m-1 1h1m0 1h1m-1 1h1m-1 1h1m0 1h1m-1 1h1m0 1h1m-1 1h1m0 1h1m-1 1h1m0 1h1m-1 1h1m0 1h1m-1 1h1m0 1h1m0 1h1m0 1h1m0 1h1m0 1h1m0 1h1m0 1h1m0 1h1m0 1h1m0 1h2m0 1h1m0 1h2m0 1h1m0 1h1m0 1h2m0 1h2m0 1h2m0 1h2m0 1h2m0 1h2m0 1h2m0 1h5m0 1h4m0 -1h2m0 -1h1m0 -1h1m0 -1h2m0 -1h1m0 -1h1m0 -1h1m0 -1h1m0 -1h1m0 -1h1m0 -2h1m-1 1h1m0 -2h1m0 -1h1m0 -2h1m-1 1h1m0 -2h1m0 -1h2m0 -1h2m0 -1h1m0 -1h1m0 -1h1m0 -1h1m0 -1h1m0 -1h1m0 -1h1m0 -1h1m0 -1h1m0 -1h1m0 -1h1m0 -1h3m0 -1h3m0 -1h3m0 -1h1m0 -2h1m-1 1h1m0 -2h1m0 -1h1m0 -1h1m0 -2h1m-1 1h1m0 -2h1m0 -1h2m0 -1h1m0 -1h3m0 -1h1m0 -1h3m0 -1h2m0 -1h3m0 -1h5m0 1h4m0 -1h2m0 -1h3m0 -1h2m0 -1h1m0 -1h1m0 -1h1m0 -1h1m0 -1h1m0 -1h2m0 -1h2m0 -1h3m0 1h4m0 1h2m0 1h1m0 1h1m0 1h1m0 1h2m0 1h1m0 1h1m0 1h4m0 1h5m0 -1h1m0 -1h3m0 -1h1m0 -1h2m0 -1h2m0 -1h2m0 -1h1m0 -1h2m0 -1h1m0 1h1m0 1h1m0 1h2m0 1h1m0 1h1m0 1h1m0 1h2m0 1h1m0 1h2m0 1h1m0 1h2m0 1h2m0 -1h2m0 -1h3m0 -1h3m0 -1h2m0 -1h3m0 -1h4m0 -1h4m0 -1h8m0 -1h5m0 -1h1m0 -1h2m0 -1h1m0 -1h1m0 -2h1m-1 1h1m0 -2h1m0 -3h1m-1 1h1m-1 1h1m0 -3h1m0 -3h1m-1 1h1m-1 1h1m0 -3h1m0 -3h1m-1 1h1m-1 1h1m0 -3h5m0 -1h4m0 -1h1m0 -1h1m0 -1h1m0 -2h1m-1 1h1m0 -2h1m0 -1h1m0 -1h1m0 -1h1m0 -2h1m-1 1h1m0 -2h1m0 -2h1m-1 1h1m0 -2h1m0 -2h1m-1 1h1m0 -2h1m0 -2h1m-1 1h1m0 -2h1m0 -2h1m-1 1h1m0 -2h1m0 -1h1m0 -2h1m-1 1h1m0 -2h1m0 -1h1m0 -2h1m-1 1h1m0 -2h1m0 -1h1m0 -1h1m0 -1h1m0 -1h2m0 -1h1m0 -1h1m0 -1h1m0 -1h1m0 -1h1m0 -1h1m0 -1h2m0 -1h1m0 -1h1m0 -1h2m0 1h2m0 1h3m0 1h3m0 -1h1m0 -1h3m0 -1h1m0 -1h2m0 1h1m0 1h2m0 1h1m0 1h2m0 1h1m0 1h1m0 1h1m-1 1h1m0 1h1m0 1h1m-1 1h1m0 1h1m0 1h1m-1 1h1m0 1h1m0 1h1m-1 1h1m0 1h1m-1 1h1m0 1h1m-1 1h1m-1 1h1m0 1h1m-1 1h1m-1 1h1m-1 1h1m0 1h1m-1 1h1m-1 1h1m0 1h1m-1 1h1m-1 1h1m-1 1h1m0 1h1m-1 1h1m-1 1h1m0 1h1m-1 1h1m-1 1h1m0 1h1m-1 1h1m0 1h1m-1 1h1m-1 1h1m0 1h1m-1 1h1m-1 1h1m0 1h1m-1 1h1m-1 1h1m0 1h1m-1 1h1m0 1h1m-1 1h1m-1 1h1m0 1h1m-1 1h1m0 1h1m-1 1h1m-1 1h1m0 1h1m-1 1h1m-1 1h1m0 1h1m-1 1h1m-1 1h1m0 1h1m-1 1h1m0 1h1m-1 1h1m-1 1h1m0 1h1m-1 1h1m0 1h1m-1 1h1m0 1h1m-1 1h1m0 1h1m-1 1h1m-1 1h1m0 1h1m-1 1h1m0 1h1m-1 1h1m0 1h1m-1 1h1m0 1h1m-1 1h1m-1 1h1m0 1h1m0 1h1m-1 1h1m-1 1h1m0 1h1m0 1h1m-1 1h1m-1 1h1m0 1h1m0 1h1m-1 1h1m-1 1h1m0 1h1m0 1h1m-1 1h1m-1 1h1m0 1h1m0 1h1m-1 1h1m-1 1h1m0 1h1m0 1h1m-1 1h1m-1 1h1m0 1h1m0 1h1m-1 1h1m0 1h1m-1 1h1m0 1h1m-1 1h1m0 1h1m-1 1h1m0 1h1m-1 1h1m0 1h1m-1 1h1m0 1h1m-1 1h1m0 1h1m-1 1h1m0 1h1m0 1h1m-1 1h1m0 1h1m0 1h1m-1 1h1m0 1h1m0 1h1m-1 1h1m0 1h1m0 1h1m-1 1h1m0 1h2m0 1h2m0 1h3m0 1h10m0 1h1m0 1h1m-1 1h1m0 1h1m0 1h1m0 1h1m0 1h1m-1 1h1m0 1h1m0 1h1m0 1h1m0 1h1m0 1h1m0 1h1m0 1h1m0 1h1m0 1h1m0 1h1m0 1h1m0 1h1m0 1h1m0 1h1m0 1h1m0 1h1m0 1h1m0 1h1m0 1h1m0 1h1m0 1h1m0 1h1m-1 1h1m0 1h1m0 1h1m0 1h1m0 1h2m0 1h1m0 1h3m0 1h1m0 1h6m0 -1h4m0 1h2m0 1h2m0 1h1m0 1h2m0 1h1m0 1h2m0 1h2m0 1h1m0 1h2m0 1h1m0 1h1m0 1h1m0 1h1m0 1h1m0 1h1m0 1h1m0 1h1m0 1h1m0 1h1m0 1h1m-1 1h1m0 1h1m0 1h1m-1 1h1m0 1h1m0 1h1m-1 1h1m0 1h1m0 1h1m-1 1h1m0 1h1m-1 1h1m0 1h1m0 1h1m-1 1h1m-1 1h1m0 1h1m0 1h1m-1 1h1m-1 1h1m0 1h1m0 1h1m-1 1h1m-1 1h1m0 1h1m-1 1h1m0 1h1m-1 1h1m0 1h1m-1 1h1m0 1h1m-1 1h1m0 1h1m-1 1h1m0 1h1m-1 1h1m0 1h1m-1 1h1m-1 1h1m0 1h1m-1 1h1m0 1h1m-1 1h1m0 1h1m-1 1h1m0 1h1m-1 1h1m0 1h1m-1 1h1m0 1h1m-1 1h1m0 1h1m-1 1h1m0 1h1m0 1h1m-1 1h1m0 1h1m-1 1h1m0 1h1m0 1h1m-1 1h1m0 1h1m0 1h1m0 1h1m-1 1h1m0 1h1m0 1h1m0 1h1m-1 1h1m0 1h1m0 1h1m-1 1h1m0 1h1m0 1h1m0 1h1m-1 1h1m0 1h1m0 1h1m0 1h1m-1 1h1m0 1h1m0 1h1m0 1h1m0 1h1m0 1h1m0 1h1m0 1h1m0 1h1m0 1h2m0 1h2m0 1h2m0 1h2m0 -1h2m0 -1h2m0 -1h2m0 -1h2m0 -1h1m0 -1h1m0 -2h1m-1 1h1m0 -2h1m0 -1h1m0 -1h1m0 -2h1m-1 1h1m0 -2h1m0 -1h3m0 -1h3m0 -1h5m0 -1h3m0 -1h3m0 -1h2m0 -1h2m0 -1h1m0 -1h2m0 -1h2m0 -1h1m0 -1h3m0 -1h1m0 -1h2m0 -1h1m0 -1h2m0 -1h1m0 -1h1m0 -1h2m0 -1h1m0 -1h4m0 1h4m0 -1h1m0 -1h1m0 -1h1m0 -1h2m0 -1h1m0 -1h1m0 -1h1m0 -1h1m0 -2h1m-1 1h1m0 -2h1m0 -1h1m0 -1h1m0 -1h1m0 -2h1m-1 1h1m0 -2h1m0 -1h1m0 -1h1m0 -1h1m0 -1h1m0 -1h2m0 -1h1m0 -1h1m0 -1h1m0 -1h1m0 -1h1m0 -1h1m0 -2h1m-1 1h1m0 -2h1m0 -1h1m0 -2h1m-1 1h1m0 -2h1m0 -3h1m-1 1h1m-1 1h1m0 -3h1m0 -3h1m-1 1h1m-1 1h1m0 -3h1m0 -3h1m-1 1h1m-1 1h1m0 -3h1m0 -1h1m0 -1h1m0 -1h1m0 -2h1m-1 1h1m0 -2h1m0 -1h1m0 -1h1m0 -1h1m0 -1h2m0 -1h1m0 -1h1m0 -1h2m0 -1h3m0 -1h5m0 1h3m0 1h1m0 1h1m-1 1h1m0 1h1m0 1h1m0 1h1m0 1h1m-1 1h1m0 1h1m0 1h1m0 1h1m0 1h1m0 1h1m0 1h1m-1 1h1m0 1h1m0 1h1m0 1h1m0 1h1m-1 1h1m0 1h1m-1 1h1m0 1h1m-1 1h1m0 1h1m-1 1h1m0 1h1m-1 1h1m-1 1h1m0 1h1m-1 1h1m0 1h1m-1 1h1m0 1h1m-1 1h1m0 1h1m-1 1h1m-1 1h1m0 1h1m-1 1h1m0 1h1m-1 1h1m-1 1h1m0 1h1m-1 1h1m0 1h1m-1 1h1m-1 1h1m0 1h1m-1 1h1m0 1h1m-1 1h1m-1 1h1m0 1h1m-1 1h1m0 1h1m-1 1h1m-1 1h1m0 1h1m-1 1h1m-1 1h1m0 1h1m-1 1h1m-1 1h1m0 1h1m-1 1h1m0 1h1m-1 1h1m-1 1h1m0 1h1m-1 1h1m-1 1h1m0 1h1m-1 1h1m-1 1h1m0 1h1m-1 1h1m0 1h1m-1 1h1m0 1h1m0 1h1m-1 1h1m0 1h1m0 1h1m0 1h1m-1 1h1m0 1h1m0 1h1m-1 1h1m0 1h1m0 1h1m-1 1h1m0 1h1m-1 1h1m0 1h1m0 1h1m-1 1h1m0 1h1m-1 1h1m0 1h1m-1 1h1m0 1h5m0 1h6m0 -1h4m0 -1h3m0 -2h1m-1 1h1m0 -3h1m-1 1h1m0 -2h1m0 -2h1m-1 1h1m0 -2h1m0 -2h1m-1 1h1m0 -3h1m-1 1h1m0 -2h1m0 -2h1m-1 1h1m0 -3h1m-1 1h1m0 -3h1m-1 1h1m0 -3h1m-1 1h1m0 -3h1m-1 1h1m0 -3h1m-1 1h1m0 -3h1m-1 1h1m0 -2h1m0 -2h1m-1 1h1m0 -3h1m-1 1h1m0 -3h1m-1 1h1m0 -3h1m-1 1h1m0 -3h1m-1 1h1m0 -3h1m-1 1h1m0 -3h1m-1 1h1m0 -3h1m-1 1h1m0 -3h1m-1 1h1m0 -3h1m-1 1h1m0 -3h1m-1 1h1m0 -3h1m-1 1h1m0 -3h1m-1 1h1m0 -3h1m-1 1h1m0 -3h1m-1 1h1m0 -4h1m-1 1h1m-1 1h1m0 -4h1m-1 1h1m0 -3h1m-1 1h1m0 -3h1m-1 1h1m0 -4h1m-1 1h1m-1 1h1m0 -4h1m-1 1h1m0 -3h1m-1 1h1m0 -3h1m-1 1h1m0 -4h1m-1 1h1m-1 1h1m0 -3h1m0 -3h1m-1 1h1m-1 1h1m0 -3h1m0 -3h1m-1 1h1m-1 1h1m0 -3h1m0 -3h1m-1 1h1m-1 1h1m0 -3h1m0 -2h1m-1 1h1m0 -3h1m-1 1h1m0 -3h1m-1 1h1m0 -3h1m-1 1h1m0 -3h1m-1 1h1m0 -3h1m-1 1h1m0 -3h1m-1 1h1m0 -2h2m0 -1h2m0 -1h2m0 -1h2m0 -1h2m0 -1h2m0 -1h2m0 -1h1m0 -1h2m0 -1h1m0 -2h1m-1 1h1m0 -2h1m0 -1h1m0 -2h1m-1 1h1m0 -2h1m0 -1h1m0 -2h1m-1 1h1m0 -2h1m0 -1h1m0 -1h1m0 -1h1m0 -1h2m0 -1h1m0 -1h3m0 1h1m0 1h2m0 1h1m0 1h2m0 1h1m0 1h1m0 1h1m0 1h1m0 1h2m0 1h1m0 1h1m0 1h1m0 1h1m0 1h1m0 1h1m0 1h2m0 1h1m0 1h1m0 1h1m0 1h1m0 1h2m0 1h1m0 1h2m0 1h1m0 1h1m0 1h1m0 1h1m0 1h1m0 1h2m0 1h1m0 1h1m0 1h1m0 1h1m0 1h1m0 1h1m0 1h1m0 1h1m0 1h1m0 1h8m0 -1h2m0 -1h1m0 -1h2m0 -1h1m0 -1h1m0 -1h1m0 -1h1m0 -1h2m0 -1h1m0 -1h1m0 -1h1m0 -1h1m0 -1h1m0 -1h1m0 -1h2m0 -1h1m0 -1h1m0 -1h1m0 -1h1m0 -2h1m-1 1h1m0 -2h1m0 -1h1m0 -1h1m0 -2h1m-1 1h1m0 -2h1m0 -2h1m-1 1h1m0 -2h1m0 -3h1m-1 1h1m-1 1h1m0 -3h1m0 -3h1m-1 1h1m-1 1h1m0 -3h1m0 -3h1m-1 1h1m-1 1h1m0 -3h1m0 -3h1m-1 1h1m-1 1h1m0 -3h1m0 -3h1m-1 1h1m-1 1h1m0 -3h1m0 -2h1m-1 1h1m0 -2h1m0 -2h1m-1 1h1m0 -2h1m0 -1h1m0 -1h1m0 -2h1m-1 1h1m0 -2h1m0 -1h2m0 -1h2m0 -1h3m0 -1h3m0 -1h4m0 -1h2m0 1h1m0 1h2m0 1h1m0 1h1m0 1h2m0 1h1m0 1h1m0 1h1m0 1h1m0 1h1m0 1h2m0 1h1m0 1h1m0 1h1m0 1h1m0 1h1m0 1h1m0 1h1m0 1h1m0 1h1m0 1h1m0 1h1m-1 1h1m0 1h1m-1 1h1m-1 1h1m0 1h1m-1 1h1m-1 1h1m0 1h1m-1 1h1m-1 1h1m0 1h1m-1 1h1m-1 1h1m0 1h1m-1 1h1m-1 1h1m0 1h1m-1 1h1m-1 1h1m0 1h1m-1 1h1m-1 1h1m0 1h1m-1 1h1m0 1h1m-1 1h1m-1 1h1m0 1h1m-1 1h1m-1 1h1m0 1h1m-1 1h1m-1 1h1m0 1h1m-1 1h1m-1 1h1m0 1h1m-1 1h1m-1 1h1m0 1h1m-1 1h1m-1 1h1m0 1h1m-1 1h1m-1 1h1m0 1h1m-1 1h1m-1 1h1m0 1h1m-1 1h1m-1 1h1m0 1h1m-1 1h1m-1 1h1m0 1h1m-1 1h1m0 1h1m-1 1h1m-1 1h1m0 1h1m-1 1h1m-1 1h1m0 1h1m-1 1h1m-1 1h1m0 1h1m-1 1h1m0 1h1m-1 1h1m-1 1h1m0 1h1m-1 1h1m-1 1h1m0 1h1m-1 1h1m-1 1h1m0 1h1m-1 1h1m-1 1h1m0 1h1m-1 1h1m-1 1h1m0 1h1m-1 1h1m-1 1h1m0 1h1m-1 1h1m-1 1h1m0 1h1m-1 1h1m-1 1h1m0 1h1m-1 1h1m-1 1h1m0 1h1m-1 1h1m-1 1h1m0 1h1m-1 1h1m-1 1h1m0 1h1m-1 1h1m-1 1h1m0 1h1m-1 1h1m-1 1h1m-1 1h1m0 1h1m-1 1h1m-1 1h1m0 1h1m-1 1h1m-1 1h1m0 1h1m-1 1h1m-1 1h1m0 1h1m-1 1h1m-1 1h1m0 1h1m-1 1h1m-1 1h1m0 1h1m-1 1h1m-1 1h1m-1 1h1m0 1h1m-1 1h1m-1 1h1m0 1h1m-1 1h1m-1 1h1m0 1h1m-1 1h1m-1 1h1m0 1h1m-1 1h1m-1 1h1m-1 1h1m0 1h1m-1 1h1m-1 1h1m0 1h1m-1 1h1m-1 1h1m0 1h1m-1 1h1m-1 1h1m0 1h1m-1 1h1m-1 1h1m0 1h1m-1 1h1m-1 1h1m0 1h1m-1 1h1m-1 1h1m-1 1h1m0 1h1m-1 1h1m-1 1h1m0 1h1m-1 1h1m-1 1h1m0 1h1m-1 1h1m-1 1h1m0 1h1m-1 1h1m-1 1h1m0 1h1m0 1h1m-1 1h1m-1 1h1m0 1h1m0 1h1m-1 1h1m-1 1h1m0 1h1m0 1h1m-1 1h1m-1 1h1m0 1h1m0 1h1m-1 1h1m-1 1h1m0 1h1m-1 1h1m-1 1h1m0 1h1m-1 1h1m-1 1h1m0 1h1m-1 1h1m0 1h1m-1 1h1m-1 1h1m0 1h1m-1 1h1m-1 1h1m0 1h1m-1 1h1m0 1h1m-1 1h1m0 1h1m-1 1h1" fill="none" stroke="#0000d0" stroke-width="1"/>
<rect x="1419" y="30" width="2" height="1" fill="#000"/><rect x="1419" y="63" width="2" height="1" fill="#000"/><rect x="1419" y="96" width="2" height="1" fill="#000"/><rect x="1419" y="129" width="2" height="1" fill="#000"/><rect x="1419" y="162" width="2" height="1" fill="#000"/><rect x="1419" y="195" width="2" height="1" fill="#000"/><rect x="1419" y="228" width="2" height="1" fill="#000"/><rect x="1419" y="261" width="2" height="1" fill="#000"/><rect x="1419" y="294" width="2" height="1" fill="#000"/><rect x="1419" y="327" width="2" height="1" fill="#000"/><rect x="1419" y="360" width="2" height="1" fill="#000"/><rect x="1419" y="393" width="2" height="1" fill="#000"/><rect x="1419" y="426" width="2" height="1" fill="#000"/><rect x="1419" y="459" width="2" height="1" fill="#000"/><rect x="1419" y="492" width="2" height="1" fill="#000"/><rect x="1419" y="525" width="2" height="1" fill="#000"/><rect x="1419" y="558" width="2" height="1" fill="#000"/>
<rect x="3" y="161" width="1417" height="3" fill="#ff0000"/>
<rect x="3" y="325" width="1416" height="3" fill="#ff0000"/>
<rect x="3" y="456" width="1416" height="3" fill="#00ff00"/>
<rect x="2" y="323" width="7" height="7" fill="#ff0000"/>
<rect x="5" y="326" width="1" height="1" fill="#fff"/>
<rect x="1412" y="323" width="7" height="7" fill="#ff0000"/>
<rect x="1415" y="326" width="1" height="1" fill="#fff"/>
<rect x="2" y="454" width="7" height="7" fill="#00ff00"/>
<rect x="5" y="457" width="1" height="1" fill="#fff"/>
<rect x="1412" y="454" width="7" height="7" fill="#00ff00"/>
<rect x="1415" y="457" width="1" height="1" fill="#fff"/>
<path d="M1129 23h9l-4.5 4.5z" fill="#c0c0c0"/>
<rect x="3" y="596" width="1" height="9" fill="#c0c0c0"/>
<rect x="11" y="596" width="1" height="6" fill="#c0c0c0"/>
<rect x="19" y="596" width="1" height="2" fill="#c0c0c0"/>
<rect x="27" y="594" width="1" height="3" fill="#c0c0c0"/>
<rect x="35" y="595" width="1" height="2" fill="#c0c0c0"/>
<rect x="43" y="596" width="1" height="3" fill="#c0c0c0"/>
<rect x="51" y="596" width="1" height="10" fill="#c0c0c0"/>
<rect x="59" y="596" width="1" height="13" fill="#c0c0c0"/>
<rect x="67" y="596" width="1" height="15" fill="#c0c0c0"/>
<rect x="75" y="596" width="1" height="17" fill="#c0c0c0"/>
<rect x="83" y="596" width="1" height="24" fill="#c0c0c0"/>
<rect x="91" y="596" width="1" height="31" fill="#c0c0c0"/>
<rect x="99" y="596" width="1" height="33" fill="#c0c0c0"/>
<rect x="107" y="596" width="1" height="35" fill="#c0c0c0"/>
<rect x="115" y="596" width="1" height="33" fill="#c0c0c0"/>
<rect x="123" y="596" width="1" height="32" fill="#c0c0c0"/>
<rect x="131" y="596" width="1" height="29" fill="#c0c0c0"/>
<rect x="139" y="596" width="1" height="27" fill="#c0c0c0"/>
<rect x="147" y="596" width="1" height="24" fill="#c0c0c0"/>
<rect x="155" y="596" width="1" height="21" fill="#c0c0c0"/>
<rect x="163" y="596" width="1" height="18" fill="#c0c0c0"/>
<rect x="171" y="596" width="1" height="16" fill="#c0c0c0"/>
<rect x="179" y="596" width="1" height="10" fill="#c0c0c0"/>
<rect x="187" y="596" width="1" height="7" fill="#c0c0c0"/>
<rect x="195" y="596" width="1" height="8" fill="#c0c0c0"/>
<rect x="203" y="596" width="1" height="8" fill="#c0c0c0"/>
<rect x="211" y="596" width="1" height="5" fill="#c0c0c0"/>
<rect x="219" y="596" width="1" height="1" fill="#c0c0c0"/>
<rect x="227" y="596" width="1" height="2" fill="#c0c0c0"/>
<rect x="235" y="596" width="1" height="3" fill="#c0c0c0"/>
<rect x="243" y="596" width="1" height="3" fill="#c0c0c0"/>
<rect x="251" y="596" width="1" height="2" fill="#c0c0c0"/>
<rect x="259" y="596" width="1" height="1" fill="#c0c0c0"/>
<rect x="267" y="596" width="1" height="3" fill="#c0c0c0"/>
<rect x="275" y="596" width="1" height="2" fill="#c0c0c0"/>
<rect x="283" y="596" width="1" height="1" fill="#c0c0c0"/>
<rect x="291" y="596" width="1" height="1" fill="#c0c0c0"/>
<rect x="299" y="596" width="1" height="1" fill="#c0c0c0"/>
<rect x="307" y="594" width="1" height="3" fill="#c0c0c0"/>
<rect x="315" y="592" width="1" height="5" fill="#c0c0c0"/>
<rect x="323" y="587" width="1" height="10" fill="#c0c0c0"/>
<rect x="331" y="587" width="1" height="10" fill="#c0c0c0"/>
<rect x="339" y="582" width="1" height="15" fill="#c0c0c0"/>
<rect x="347" y="579" width="1" height="18" fill="#c0c0c0"/>
<rect x="355" y="576" width="1" height="21" fill="#c0c0c0"/>
<rect x="363" y="575" width="1" height="22" fill="#c0c0c0"/>
<rect x="371" y="574" width="1" height="23" fill="#c0c0c0"/>
<rect x="379" y="575" width="1" height="22" fill="#c0c0c0"/>
<rect x="387" y="578" width="1" height="19" fill="#c0c0c0"/>
<rect x="395" y="580" width="1" height="17" fill="#c0c0c0"/>
<rect x="403" y="586" width="1" height="11" fill="#c0c0c0"/>
<rect x="411" y="596" width="1" height="2" fill="#c0c0c0"/>
<rect x="419" y="596" width="1" height="12" fill="#c0c0c0"/>
<rect x="427" y="596" width="1" height="17" fill="#c0c0c0"/>
<rect x="435" y="596" width="1" height="21" fill="#c0c0c0"/>
<rect x="443" y="596" width="1" height="23" fill="#c0c0c0"/>
<rect x="451" y="596" width="1" height="24" fill="#c0c0c0"/>
<rect x="459" y="596" width="1" height="28" fill="#c0c0c0"/>
<rect x="467" y="596" width="1" height="34" fill="#c0c0c0"/>
<rect x="475" y="596" width="1" height="35" fill="#c0c0c0"/>
<rect x="483" y="596" width="1" height="40" fill="#c0c0c0"/>
<rect x="491" y="596" width="1" height="41" fill="#c0c0c0"/>
<rect x="499" y="596" width="1" height="41" fill="#c0c0c0"/>
<rect x="507" y="596" width="1" height="41" fill="#c0c0c0"/>
<rect x="515" y="596" width="1" height="41" fill="#c0c0c0"/>
<rect x="523" y="596" width="1" height="40" fill="#c0c0c0"/>
<rect x="531" y="596" width="1" height="40" fill="#c0c0c0"/>
<rect x="539" y="596" width="1" height="44" fill="#c0c0c0"/>
<rect x="547" y="596" width="1" height="47" fill="#c0c0c0"/>
<rect x="555" y="596" width="1" height="49" fill="#c0c0c0"/>
<rect x="563" y="596" width="1" height="54" fill="#c0c0c0"/>
<rect x="571" y="596" width="1" height="60" fill="#c0c0c0"/>
<rect x="579" y="596" width="1" height="61" fill="#c0c0c0"/>
<rect x="587" y="596" width="1" height="59" fill="#c0c0c0"/>
<rect x="595" y="596" width="1" height="60" fill="#c0c0c0"/>
<rect x="603" y="596" width="1" height="61" fill="#c0c0c0"/>
<rect x="611" y="596" width="1" height="58" fill="#c0c0c0"/>
<rect x="619" y="596" width="1" height="53" fill="#c0c0c0"/>
<rect x="627" y="596" width="1" height="48" fill="#c0c0c0"/>
<rect x="635" y="596" width="1" height="45" fill="#c0c0c0"/>
<rect x="643" y="596" width="1" height="41" fill="#c0c0c0"/>
<rect x="651" y="596" width="1" height="39" fill="#c0c0c0"/>
<rect x="659" y="596" width="1" height="37" fill="#c0c0c0"/>
<rect x="667" y="596" width="1" height="33" fill="#c0c0c0"/>
<rect x="675" y="596" width="1" height="30" fill="#c0c0c0"/>
<rect x="683" y="596" width="1" height="23" fill="#c0c0c0"/>
<rect x="691" y="596" width="1" height="15" fill="#c0c0c0"/>
<rect x="699" y="596" width="1" height="11" fill="#c0c0c0"/>
<rect x="707" y="596" width="1" height="7" fill="#c0c0c0"/>
<rect x="715" y="596" width="1" height="1" fill="#c0c0c0"/>
<rect x="723" y="594" width="1" height="3" fill="#c0c0c0"/>
<rect x="731" y="595" width="1" height="2" fill="#c0c0c0"/>
<rect x="739" y="595" width="1" height="2" fill="#c0c0c0"/>
<rect x="747" y="596" width="1" height="2" fill="#c0c0c0"/>
<rect x="755" y="596" width="1" height="5" fill="#c0c0c0"/>
<rect x="763" y="596" width="1" height="14" fill="#c0c0c0"/>
<rect x="771" y="596" width="1" height="19" fill="#c0c0c0"/>
<rect x="779" y="596" width="1" height="25" fill="#c0c0c0"/>
<rect x="787" y="596" width="1" height="27" fill="#c0c0c0"/>
<rect x="795" y="596" width="1" height="27" fill="#c0c0c0"/>
<rect x="803" y="596" width="1" height="24" fill="#c0c0c0"/>
<rect x="811" y="596" width="1" height="20" fill="#c0c0c0"/>
<rect x="819" y="596" width="1" height="16" fill="#c0c0c0"/>
<rect x="827" y="596" width="1" height="10" fill="#c0c0c0"/>
<rect x="835" y="596" width="1" height="5" fill="#c0c0c0"/>
<rect x="843" y="596" width="1" height="1" fill="#c0c0c0"/>
<rect x="851" y="590" width="1" height="7" fill="#c0c0c0"/>
<rect x="859" y="583" width="1" height="14" fill="#c0c0c0"/>
<rect x="867" y="578" width="1" height="19" fill="#c0c0c0"/>
<rect x="875" y="580" width="1" height="17" fill="#c0c0c0"/>
<rect x="883" y="579" width="1" height="18" fill="#c0c0c0"/>
<rect x="891" y="574" width="1" height="23" fill="#c0c0c0"/>
<rect x="899" y="572" width="1" height="25" fill="#c0c0c0"/>
<rect x="907" y="575" width="1" height="22" fill="#c0c0c0"/>
<rect x="915" y="577" width="1" height="20" fill="#c0c0c0"/>
<rect x="923" y="580" width="1" height="17" fill="#c0c0c0"/>
<rect x="931" y="587" width="1" height="10" fill="#c0c0c0"/>
<rect x="939" y="589" width="1" height="8" fill="#c0c0c0"/>
<rect x="947" y="590" width="1" height="7" fill="#c0c0c0"/>
<rect x="955" y="585" width="1" height="12" fill="#c0c0c0"/>
<rect x="963" y="581" width="1" height="16" fill="#c0c0c0"/>
<rect x="971" y="578" width="1" height="19" fill="#c0c0c0"/>
<rect x="979" y="578" width="1" height="19" fill="#c0c0c0"/>
<rect x="987" y="578" width="1" height="19" fill="#c0c0c0"/>
<rect x="995" y="572" width="1" height="25" fill="#c0c0c0"/>
<rect x="1003" y="571" width="1" height="26" fill="#c0c0c0"/>
<rect x="1011" y="570" width="1" height="27" fill="#c0c0c0"/>
<rect x="1019" y="571" width="1" height="26" fill="#c0c0c0"/>
<rect x="1027" y="575" width="1" height="22" fill="#c0c0c0"/>
<rect x="1035" y="581" width="1" height="16" fill="#c0c0c0"/>
<rect x="1043" y="588" width="1" height="9" fill="#c0c0c0"/>
<rect x="1051" y="596" width="1" height="1" fill="#c0c0c0"/>
<rect x="1059" y="596" width="1" height="9" fill="#c0c0c0"/>
<rect x="1067" y="596" width="1" height="16" fill="#c0c0c0"/>
<rect x="1075" y="596" width="1" height="24" fill="#c0c0c0"/>
<rect x="1083" y="596" width="1" height="32" fill="#c0c0c0"/>
<rect x="1091" y="596" width="1" height="43" fill="#c0c0c0"/>
<rect x="1099" y="596" width="1" height="51" fill="#c0c0c0"/>
<rect x="1107" y="596" width="1" height="58" fill="#c0c0c0"/>
<rect x="1115" y="596" width="1" height="65" fill="#c0c0c0"/>
<path d="M0 .5m3 611h3m3 -2h3m3 -1h2m0 -1h1m3 -1h2m0 -1h1m3 -1h3m3 -2h3m3 0h1m0 -1h2m3 0h3m3 -1h3m3 1h3m3 0h1m0 1h2m3 0h3m3 1h3m3 2h3m3 2h2m0 1h1m3 2h1m0 1h2m3 2h2m0 1h1m3 1h1m0 1h2m3 2h3m3 2h2m0 1h1m3 1h3m3 2h3m3 0h1m0 1h2m3 0h3m3 1h3m3 -1h3m3 0h1m0 -1h2m3 0h1m0 -1h2m3 -1h2m0 -1h1m3 -1h1m0 -1h2m3 -1h2m0 -1h1m3 -1h2m0 -1h1m3 -1h2m0 -1h1m3 -1h1m0 -1h2m3 -1h2m0 -1h1m3 -1h2m0 -1h1m3 -1h3m3 -2h3m3 -1h2m0 -1h1m3 0h3m3 -1h3m3 -1h3m3 0h1m0 -1h2m3 0h3m3 0h3m3 -1h3m3 0h1m0 -1h2m3 0h3m3 0h3m3 0h3m3 0h1m0 -1h2m3 0h3m3 0h3m3 -2h3m3 0h1m0 -1h2m3 0h1m0 -1h2m3 -1h3m3 -2h3m3 -1h2m0 -1h1m3 -1h2m0 -1h1m3 -1h3m3 -2h3m3 -2h3m3 -1h3m3 -1h3m3 -1h3m3 0h3m3 0h1m0 1h2m3 1h2m0 1h1m3 1h1m0 1h2m3 2h1m0 1h1m0 1h1m3 2h1m0 1h2m3 2h1m0 1h2m3 3h2m0 1h1m3 3h1m0 1h2m3 4h2m0 1h1m3 3h1m0 1h2m3 3h2m0 1h1m3 2h1m0 1h1m0 1h1m3 2h1m0 1h2m3 2h2m0 1h1m3 1h1m0 1h2m3 2h3m3 1h1m0 1h2m3 1h2m0 1h1m3 1h1m0 1h2m3 0h1m0 1h2m3 0h3m3 1h3m3 1h3m3 0h1m0 1h2m3 0h1m0 1h2m3 1h3m3 1h3m3 1h2m0 1h1m3 1h2m0 1h1m3 1h3m3 1h3m3 2h3m3 1h1m0 1h2m3 1h3m3 2h3m3 0h3m3 0h3m3 0h3m3 -1h3m3 -1h2m0 -1h1m3 0h1m0 -1h2m3 -1h2m0 -1h1m3 -1h1m0 -1h2m3 -2h3m3 -2h2m0 -1h1m3 -1h2m0 -1h1m3 -2h1m0 -1h2m3 -2h2m0 -1h1m3 -3h2m0 -1h1m3 -3h2m0 -1h1m3 -1h1m0 -1h2m3 -2h2m0 -1h1m3 -2h1m0 -1h2m3 -3h2m0 -1h1m3 -2h1m0 -1h2m3 -2h2m0 -1h1m3 -2h2m0 -1h1m3 -1h3m3 -2h3m3 0h3m3 0h3m3 1h3m3 2h3m3 2h2m0 1h1m3 1h1m0 1h2m3 1h2m0 1h1m3 1h1m0 1h2m3 0h1m0 1h2m3 1h2m0 1h1m3 1h3m3 0h3m3 0h1m0 -1h2m3 0h1m0 -1h2m3 -1h2m0 -1h1m3 -2h1m0 -1h2m3 -2h3m3 -2h1m0 -1h2m3 -3h1m0 -1h2m3 -3h2m0 -1h1m3 -2h1m0 -1h1m0 -1h1m3 -2h1m0 -1h2m3 -2h2m0 -1h1m3 -2h1m0 -1h2m3 -2h3m3 -1h1m0 -1h2m3 -1h3m3 -2h3m3 0h1m0 1h2m3 0h3m3 1h3m3 1h3m3 0h1m0 1h2m3 0h3m3 1h3m3 1h3m3 0h3m3 0h3m3 0h3m3 -1h3m3 -1h2m0 -1h1m3 0h1m0 -1h2m3 -1h3m3 -2h3m3 0h1m0 -1h2m3 0h3m3 0h3m3 1h3m3 1h2m0 1h1m3 1h1m0 1h2m3 2h2m0 1h1m3 2h1m0 1h2m3 2h1m0 1h1m0 1h1m3 3h1m0 1h1m0 1h1m3 3h1m0 1h1m0 1h1m3 4h1m0 1h1m0 1h1m3 4h1m0 1h1m0 1h1m3 4h1m0 1h1m0 1h1m3 4h1m0 1h1m0 1h1m3 3h1m0 1h1m0 1h1" fill="none" stroke="#ff0000" stroke-width="1"/>
<rect x="811" y="565" width="1" height="4" fill="#ff0000"/>
<path d="M3 708.5H1418M3 759.5H1418" stroke="#c0c0c0" stroke-width="1" stroke-dasharray="3 3" fill="none"/>
<path d="M0 .5m3 735h2m0 -1h1m0 -1h3m0 -1h1m0 -1h4m0 -1h3m0 -1h4m0 -1h1m0 -1h3m0 -1h1m0 -1h2m0 1h1m0 1h1m0 1h1m0 1h1m-1 1h1m0 1h1m0 1h1m0 1h1m0 1h1m0 1h1m0 1h1m0 1h1m0 1h2m0 1h1m0 1h1m0 1h2m0 1h1m0 1h3m0 1h1m0 1h2m0 -1h2m0 -1h2m0 -1h1m0 -1h2m0 -1h5m0 1h8m0 1h4m0 1h1m0 1h1m0 1h1m0 1h1m0 1h1m0 1h1m0 1h1m0 1h5m0 1h4m0 -1h1m0 -1h2m0 -1h1m0 -1h2m0 -1h1m0 -1h3m0 1h3m0 1h3m0 -1h1m0 -1h1m0 -1h1m0 -1h2m0 -1h1m0 -1h1m0 -1h5m0 1h4m0 -1h2m0 -1h2m0 -1h1m0 -1h2m0 -1h2m0 1h1m0 1h3m0 1h1m0 1h3m0 -1h1m0 -1h3m0 -1h1m0 -1h11m0 -1h2m0 -1h3m0 -1h4m0 1h3m0 1h3m0 -1h1m0 -1h1m0 -1h1m0 -2h1m-1 1h1m0 -2h1m0 -1h1m0 -1h1m0 -1h1m0 1h1m0 1h2m0 1h1m0 1h2m0 1h1m0 1h1m0 1h2m0 1h2m0 1h1m0 1h2m0 1h9m0 -1h1m0 -1h1m0 -1h1m0 -1h1m0 -1h1m0 -1h1m0 -1h1m0 -1h2m0 -1h2m0 -1h3m0 -1h2m0 1h1m-1 1h1m0 1h1m0 1h1m0 1h1m-1 1h1m0 1h1m0 1h1m0 1h1m-1 1h1m0 1h10m0 -1h1m0 -1h3m0 -1h1m0 -1h4m0 -1h3m0 -1h11m0 1h1m-1 1h1m0 1h1m0 1h1m0 1h1m-1 1h1m0 1h1m0 1h1m0 1h1m-1 1h1m0 1h1m0 -2h1m-1 1h1m0 -2h1m0 -2h1m-1 1h1m0 -2h1m0 -2h1m-1 1h1m0 -2h1m0 -2h1m-1 1h1m0 -2h3m0 1h3m0 1h7m0 1h13m0 -1h1m0 -1h3m0 -1h1m0 -1h6m0 -1h4m0 -1h1m0 -1h1m0 -1h1m0 -1h1m0 -1h1m0 -1h1m0 -1h1m0 -1h1m0 1h1m0 1h1m-1 1h1m0 1h1m0 1h1m0 1h1m0 1h1m-1 1h1m0 1h1m0 1h1m0 -1h1m0 -1h1m0 -1h1m0 -1h1m0 -1h1m0 -1h1m0 -1h1m0 -1h19m0 1h3m0 1h5m0 -1h3m0 -1h3m0 1h1m0 1h1m0 1h1m0 1h2m0 1h1m0 1h1m0 1h10m0 1h1m0 1h3m0 1h1m0 1h2m0 1h1m0 1h1m0 1h1m0 1h1m0 1h1m0 1h1m0 1h1m0 1h1m0 1h1m-1 1h1m0 1h1m-1 1h1m0 1h1m-1 1h1m0 1h1m0 1h1m-1 1h1m0 1h1m-1 1h1m0 1h1m-1 1h1m0 1h5m0 -1h4m0 -1h1m0 -1h2m0 -1h1m0 -1h2m0 -1h1m0 -1h5m0 -1h5m0 -1h2m0 -1h3m0 -1h6m0 1h4m0 1h1m0 1h2m0 1h1m0 1h2m0 1h1m0 1h2m0 1h1m0 1h3m0 1h1m0 1h2m0 -1h1m0 -1h1m0 -1h1m0 -1h2m0 -1h1m0 -1h1m0 -1h1m0 1h1m0 1h1m0 1h1m0 1h2m0 1h1m0 1h1m0 1h1m0 -1h2m0 -1h2m0 -1h1m0 -1h2m0 -1h2m0 -1h1m0 -1h3m0 -1h1m0 -1h4m0 1h3m0 1h7m0 1h5m0 -1h2m0 -1h3m0 -1h3m0 1h2m0 1h3m0 1h2m0 1h1m0 1h2m0 1h1m0 1h2m0 1h1m0 1h3m0 1h3m0 1h7m0 1h4m0 1h2m0 1h2m0 1h1m0 1h2m0 1h2m0 1h2m0 1h3m0 1h2m0 -2h1m-1 1h1m0 -2h1m0 -1h1m0 -2h1m-1 1h1m0 -2h1m0 -1h1m0 -2h1m-1 1h1m0 -2h1m0 -1h2m0 -1h2m0 -1h1m0 -1h2m0 -1h1m0 1h2m0 1h2m0 1h1m0 1h2m0 1h5m0 1h4m0 -1h1m0 -1h2m0 -1h1m0 -1h2m0 -1h1m0 -1h1m0 -1h1m0 -1h1m0 -1h1m0 -2h1m-1 1h1m0 -2h1m0 -1h1m0 -1h1m0 -1h5m0 1h6m0 1h3m0 1h5m0 -1h3m0 -1h5m0 1h3m0 1h4m0 1h2m0 1h3m0 1h2m0 -1h1m0 -2h1m-1 1h1m0 -2h1m0 -1h1m0 -1h1m0 -2h1m-1 1h1m0 -2h1m0 -1h3m0 1h3m0 1h3m0 -1h1m0 -2h1m-1 1h1m0 -2h1m0 -1h1m0 -1h1m0 -2h1m-1 1h1m0 -2h1m0 -1h1m0 -1h2m0 -1h2m0 -1h1m0 -1h2m0 -1h1m0 1h1m0 1h2m0 1h1m0 1h2m0 1h1m0 1h5m0 -1h4m0 -1h1m0 -1h1m0 -1h1m0 -1h2m0 -1h1m0 -1h1m0 -1h2m0 1h2m0 1h3m0 1h2m0 1h1m0 1h1m0 1h1m0 1h1m-1 1h1m0 1h1m0 1h1m0 1h1m0 1h9m0 1h1m0 1h1m0 1h1m0 1h2m0 1h1m0 1h1m0 1h2m0 1h1m0 1h3m0 1h1m0 1h2m0 1h1m0 1h1m0 1h1m0 1h1m0 1h1m0 1h1m0 1h1m0 1h2m0 -1h1m0 -1h3m0 -1h1m0 -1h2m0 1h2m0 1h2m0 1h1m0 1h2m0 1h1m0 -1h1m0 -1h1m0 -1h1m0 -2h1m-1 1h1m0 -2h1m0 -1h1m0 -1h1m0 -1h5m0 -1h4m0 -1h1m0 -1h1m0 -1h1m0 -2h1m-1 1h1m0 -2h1m0 -1h1m0 -1h1m0 -1h5m0 -1h5m0 -1h1m0 -1h3m0 -1h1m0 -1h3m0 -1h1m0 -1h3m0 -1h1m0 -1h6m0 1h4m0 -1h2m0 -1h2m0 -1h1m0 -1h2m0 -1h2m0 -1h1m0 -1h3m0 -1h1m0 -1h3m0 -1h2m0 -1h3m0 -1h10m-1 1h1m0 1h1m0 1h1m-1 1h1m-1 1h1m0 1h1m0 1h1m-1 1h1m-1 1h1m0 1h1m0 1h1m-1 1h1m-1 1h1m0 1h1m0 1h3m-3 1h1m2 -2h2m0 -1h1m0 -1h2m0 -1h1m0 -1h1m0 -1h1m0 -1h1m0 -1h2m0 -1h1m0 -1h1m0 -1h5m0 1h4m0 1h1m-1 1h1m0 1h1m0 1h1m0 1h1m-1 1h1m0 1h1m0 1h1m0 1h1m-1 1h1m0 1h11m0 1h3m0 1h3m0 1h1m0 1h1m0 1h1m0 1h1m-1 1h1m0 1h1m0 1h1m0 1h1m0 1h1m0 -1h1m0 -1h1m0 -1h1m0 -1h2m0 -1h1m0 -1h1m0 -1h2m0 -1h2m0 -1h3m0 -1h2m0 -1h1m0 -1h1m0 -1h1m0 -2h1m-1 1h1m0 -2h1m0 -1h1m0 -1h1m0 -1h5m0 1h5m0 -1h2m0 -1h3m0 -1h2m0 1h2m0 1h2m0 1h1m0 1h2m0 1h3m0 1h3m0 1h3m0 -1h1m0 -2h1m-1 1h1m0 -2h1m0 -1h1m0 -1h1m0 -2h1m-1 1h1m0 -2h1m0 -1h1m0 1h1m0 1h2m0 1h1m0 1h2m0 1h1m0 1h10m0 1h2m0 1h3m0 1h2m0 1h1m0 1h1m0 1h1m0 1h2m0 1h1m0 1h1m0 1h2m0 1h1m0 1h3m0 1h1m0 1h2m0 1h2m0 1h2m0 1h1m0 1h2m0 1h1m0 1h1m0 1h1m0 1h1m0 1h2m0 1h1m0 1h1m0 1h13m0 1h5m0 1h1m0 1h3m0 1h1m0 1h3m0 1h1m0 1h3m0 1h1m0 1h2m0 1h2m0 1h2m0 1h1m0 1h2m0 1h11m0 1h3m0 1h5m0 1h3m0 1h3" fill="none" stroke="#1e90ff" stroke-width="1"/>
<rect x="1419" y="565" width="1" height="1" fill="#000"/>
<rect x="1419" y="596" width="2" height="1" fill="#000"/>
<rect x="1419" y="664" width="1" height="1" fill="#000"/>
<rect x="1419" y="670" width="1" height="1" fill="#000"/>
<rect x="1419" y="709" width="2" height="1" fill="#000"/>
<rect x="1419" y="760" width="2" height="1" fill="#000"/>
<rect x="1419" y="796" width="1" height="1" fill="#000"/>
<rect x="3" y="799" width="1" height="3" fill="#000"/>
<rect x="67" y="799" width="1" height="3" fill="#000"/>
<rect x="131" y="799" width="1" height="3" fill="#000"/>
<rect x="195" y="799" width="1" height="3" fill="#000"/>
<rect x="259" y="799" width="1" height="3" fill="#000"/>
<rect x="323" y="799" width="1" height="3" fill="#000"/>
<rect x="387" y="799" width="1" height="3" fill="#000"/>
<rect x="451" y="799" width="1" height="3" fill="#000"/>
<rect x="515" y="799" width="1" height="3" fill="#000"/>
<rect x="579" y="799" width="1" height="3" fill="#000"/>
<rect x="643" y="799" width="1" height="3" fill="#000"/>
<rect x="707" y="799" width="1" height="3" fill="#000"/>
<rect x="771" y="799" width="1" height="3" fill="#000"/>
<rect x="835" y="799" width="1" height="3" fill="#000"/>
<rect x="899" y="799" width="1" height="3" fill="#000"/>
<rect x="963" y="799" width="1" height="3" fill="#000"/>
<rect x="1027" y="799" width="1" height="3" fill="#000"/>
<rect x="1091" y="799" width="1" height="3" fill="#000"/>
<path d="M6 33.5h7.5l-3.75-4z" fill="#000"/>
<rect x="1419" y="327" width="1" height="1" fill="#000"/>
<rect x="1419" y="459" width="1" height="1" fill="#000"/>
</svg>
<div class="ax" style="left:1424px;top:25px;">0.72220</div>
<div class="ax" style="left:1424px;top:58px;">0.71915</div>
<div class="ax" style="left:1424px;top:91px;">0.71610</div>
<div class="ax" style="left:1424px;top:124px;">0.71310</div>
<div class="ax" style="left:1424px;top:157px;">0.71005</div>
<div class="ax" style="left:1424px;top:190px;">0.70705</div>
<div class="ax" style="left:1424px;top:223px;">0.70400</div>
<div class="ax" style="left:1424px;top:256px;">0.70100</div>
<div class="ax" style="left:1424px;top:289px;">0.69795</div>
<div class="ax" style="left:1424px;top:322px;">0.69495</div>
<div class="ax" style="left:1424px;top:355px;">0.69190</div>
<div class="ax" style="left:1424px;top:388px;">0.68885</div>
<div class="ax" style="left:1424px;top:421px;">0.68585</div>
<div class="ax" style="left:1424px;top:454px;">0.68280</div>
<div class="ax" style="left:1424px;top:487px;">0.67975</div>
<div class="ax" style="left:1424px;top:520px;">0.67675</div>
<div class="ax" style="left:1424px;top:553px;">0.67370</div>
<div class="ax" style="left:1422px;top:565px;">0.002538</div>
<div class="ax" style="left:1422px;top:591px;">0.00</div>
<div class="ax" style="left:1422px;top:654px;">-0.005581</div>
<div class="ax" style="left:1422px;top:671px;">100</div>
<div class="ax" style="left:1422px;top:704px;">70</div>
<div class="ax" style="left:1422px;top:755px;">30</div>
<div class="ax" style="left:1422px;top:786px;">0</div>
<div style="position:absolute;left:1420px;top:156px;width:41px;height:11px;background:#ff0000"></div>
<div class="ax" style="left:1424px;top:156px;color:#fff;">0.71005</div>
<div style="position:absolute;left:1420px;top:320px;width:41px;height:11px;background:#ff0000"></div>
<div class="ax" style="left:1424px;top:320px;color:#fff;">0.69503</div>
<div style="position:absolute;left:1420px;top:451px;width:41px;height:11px;background:#00ff00"></div>
<div class="ax" style="left:1424px;top:451px;color:#fff;">0.68303</div>
<div style="position:absolute;left:1420px;top:524px;width:41px;height:11px;background:#000"></div>
<div class="ax" style="left:1424px;top:524px;color:#fff;">0.67641</div>
<div class="ax" style="left:2px;top:802px;">22 Feb 2019</div>
<div class="ax" style="left:66px;top:802px;">4 Mar 2019</div>
<div class="ax" style="left:130px;top:802px;">13 Mar 2019</div>
<div class="ax" style="left:194px;top:802px;">22 Mar 2019</div>
<div class="ax" style="left:258px;top:802px;">1 Apr 2019</div>
<div class="ax" style="left:322px;top:802px;">10 Apr 2019</div>
<div class="ax" style="left:386px;top:802px;">21 Apr 2019</div>
<div class="ax" style="left:450px;top:802px;">30 Apr 2019</div>
<div class="ax" style="left:514px;top:802px;">9 May 2019</div>
<div class="ax" style="left:578px;top:802px;">19 May 2019</div>
<div class="ax" style="left:642px;top:802px;">28 May 2019</div>
<div class="ax" style="left:706px;top:802px;">6 Jun 2019</div>
<div class="ax" style="left:770px;top:802px;">16 Jun 2019</div>
<div class="ax" style="left:834px;top:802px;">25 Jun 2019</div>
<div class="ax" style="left:898px;top:802px;">4 Jul 2019</div>
<div class="ax" style="left:962px;top:802px;">14 Jul 2019</div>
<div class="ax" style="left:1026px;top:802px;">23 Jul 2019</div>
<div class="ax" style="left:1090px;top:802px;">1 Aug 2019</div>
<div class="ax" style="left:18.5px;top:25px;transform:scaleX(0.94);">AUDUSD-,Daily&nbsp; 0.67891 0.68031 0.67470 0.67641</div>
<div class="ax" style="left:7px;top:567px;">MACD(12,26,9) -0.005212 -0.002667</div>
<div class="ax" style="left:7px;top:672px;">RSI(14) 23.4030</div>
<div id="topbar">
<div id="d1bg"></div>
<div class="tf" style="left:6px;top:0px">H4</div>
<div class="sep" style="left:28px"></div>
<div class="tf" style="left:34.5px;top:0px">D1</div>
<div class="tf" style="left:62px;top:0px">W1</div>
<div class="tf" style="left:88.5px;top:0px">MN</div>
<div class="sep" style="left:111px"></div>
</div>
<div id="oct">
<div style="position:absolute;left:4px;top:40px;width:223px;height:68px;background:#fff"></div>
<div class="pn" style="left:6px;top:66px;width:109px;height:40px"></div>
<div class="pn" style="left:117px;top:66px;width:108px;height:40px"></div>
<div class="bt" style="left:6px;top:42px;width:52px;height:24px"></div>
<div class="bt" style="left:173px;top:42px;width:52px;height:24px"></div>
<div class="ul" style="left:10px;top:65px;width:44px"></div>
<div class="ul" style="left:177px;top:65px;width:44px"></div>
<div id="spin"><div class="sb" style="left:1px"></div><div class="sb" style="left:89px"></div>
<svg width="111" height="22" style="position:absolute;left:0;top:0"><path d="M7.5 8h6l-3 3.5z" fill="#4664c8"/><path d="M95.5 11.5h6l-3-3.5z" fill="#4664c8"/></svg>
<div style="position:absolute;right:24px;top:3px;font-size:12px;line-height:14px;color:#000">1.00</div></div>
<div class="w" style="left:18px;top:47px;font-size:12px;line-height:14px;letter-spacing:-0.9px">SELL</div>
<div class="w" style="left:186.5px;top:47px;font-size:12px;line-height:14px;letter-spacing:-0.6px">BUY</div>
<div class="w" style="left:25.5px;top:86px;font-size:12px;line-height:14px;font-weight:bold">0.67</div>
<div class="w" style="left:135.5px;top:86px;font-size:12px;line-height:14px;font-weight:bold">0.67</div>
<div class="w" style="left:53px;top:66px;font-size:33.5px;line-height:38px;letter-spacing:-1.7px">64</div>
<div class="w" style="left:164px;top:66px;font-size:33.5px;line-height:38px;letter-spacing:-1.7px">66</div>
<div class="w" style="left:93px;top:70px;font-size:12px;line-height:14px;font-weight:bold">1</div>
<div class="w" style="left:204px;top:70px;font-size:12px;line-height:14px;font-weight:bold">3</div>
</div>
<div id="tabs"><div class="top"></div><div class="top2"></div><div class="ln"></div><div id="atab"></div><div class="tab" style="left:15px;">EURUSD-,Daily</div><div class="tab" style="left:122px;color:#000;">AUDUSD-,Daily</div><div class="tab" style="left:232px;">USDCHF-,Daily</div><div class="tab" style="left:339px;">USDCAD-,Daily</div><div class="tab" style="left:448px;">USDCNH-,Daily</div><div class="tab" style="left:559px;">EURCHF-,Weekly</div><div class="tab" style="left:680px;">XAUUSD-,Weekly</div><div class="tab" style="left:803px;">GBPUSD-,H1</div><div class="tab" style="left:899px;">UKOil-,H1</div><div class="tab" style="left:978px;">USDX-,Weekly</div><div class="tsep" style="left:328px"></div><div class="tsep" style="left:436px"></div><div class="tsep" style="left:548px"></div><div class="tsep" style="left:668px"></div><div class="tsep" style="left:792px"></div><div class="tsep" style="left:888px"></div><div class="tsep" style="left:968px"></div><div class="tsep" style="left:1072px"></div><svg width="40" height="12" style="position:absolute;left:1430px;top:5px"><path d="M8.5 2v7l-4-3.5z" fill="#8c8c8c"/><path d="M22.5 2v7l4-3.5z" fill="#8c8c8c"/></svg></div>
</body></html>
